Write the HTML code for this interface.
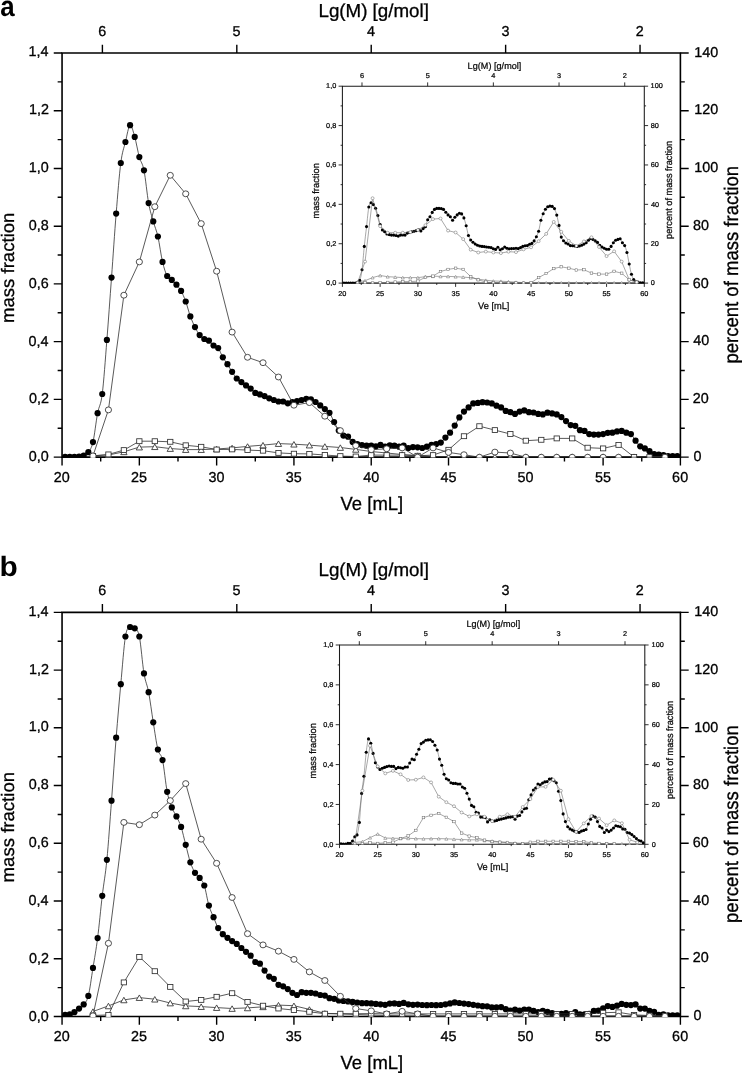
<!DOCTYPE html>
<html><head><meta charset="utf-8"><title>Figure</title>
<style>html,body{margin:0;padding:0;background:#fff;}svg{display:block;will-change:transform;filter:grayscale(1) blur(0.3px);}text{font-family:"Liberation Sans",sans-serif;}</style></head>
<body>
<svg width="742" height="1073" viewBox="0 0 742 1073" text-rendering="geometricPrecision" font-family="'Liberation Sans', sans-serif">
<rect width="742" height="1073" fill="#fff"/>
<g>
<path d="M62.05 53H680.4V457.1H62.05Z" fill="none" stroke="#000" stroke-width="1.6" stroke-linejoin="miter"/>
<path d="M62.05 457.1v8.3M100.6969 457.1v4.4M139.3438 457.1v8.3M177.9906 457.1v4.4M216.6375 457.1v8.3M255.2844 457.1v4.4M293.9312 457.1v8.3M332.5781 457.1v4.4M371.225 457.1v8.3M409.8719 457.1v4.4M448.5188 457.1v8.3M487.1656 457.1v4.4M525.8125 457.1v8.3M564.4594 457.1v4.4M603.1062 457.1v8.3M641.7531 457.1v4.4M680.4 457.1v8.3M102.4 53v-8.3M236.81 53v-8.3M371.22 53v-8.3M505.63 53v-8.3M640.04 53v-8.3M62.05 457.1h-8.3M680.4 457.1h8.3M62.05 428.2357h-4.4M680.4 428.2357h4.4M62.05 399.3714h-8.3M680.4 399.3714h8.3M62.05 370.5071h-4.4M680.4 370.5071h4.4M62.05 341.6429h-8.3M680.4 341.6429h8.3M62.05 312.7786h-4.4M680.4 312.7786h4.4M62.05 283.9143h-8.3M680.4 283.9143h8.3M62.05 255.05h-4.4M680.4 255.05h4.4M62.05 226.1857h-8.3M680.4 226.1857h8.3M62.05 197.3214h-4.4M680.4 197.3214h4.4M62.05 168.4571h-8.3M680.4 168.4571h8.3M62.05 139.5929h-4.4M680.4 139.5929h4.4M62.05 110.7286h-8.3M680.4 110.7286h8.3M62.05 81.8643h-4.4M680.4 81.8643h4.4M62.05 53h-8.3M680.4 53h8.3" fill="none" stroke="#000" stroke-width="1.4"/>
<clipPath id="clip1"><rect x="62.05" y="53" width="618.35" height="404.5"/></clipPath>
<g clip-path="url(#clip1)">
<path d="M65.1418 456.8C65.9147 456.8 68.2335 456.8 69.7794 456.8C71.3252 456.8 72.8711 456.8167 74.417 456.8C75.9629 456.7833 77.5087 456.9 79.0546 456.7C80.6005 456.5 82.1464 456.35 83.6923 455.6C85.2381 454.85 86.784 454.45 88.3299 452.2C89.8757 449.95 91.4216 448.6 92.9675 442.1C94.5134 435.6 96.0593 421.2167 97.6051 413.2C99.151 405.1833 100.6969 406.2167 102.2428 394C103.7886 381.7833 105.3345 359.3 106.8804 339.9C108.4262 320.5 109.9721 298.65 111.518 277.6C113.0639 256.55 114.6098 232.7 116.1556 213.6C117.7015 194.5 119.2474 174.9333 120.7933 163C122.3391 151.0667 123.885 148.3 125.4309 142C126.9767 135.7 128.5226 126.05 130.0685 125.2C131.6144 124.35 133.1602 131.5833 134.7061 136.9C136.252 142.2167 137.7979 151.5333 139.3438 157.1C140.8896 162.6667 142.4355 162.6333 143.9814 170.3C145.5273 177.9667 147.0731 194.5833 148.619 203.1C150.1649 211.6167 151.7107 215.8333 153.2566 221.4C154.8025 226.9667 156.3484 229.75 157.8942 236.5C159.4401 243.25 160.986 255.3167 162.5319 261.9C164.0778 268.4833 165.6236 273 167.1695 276C168.7154 279 170.2612 278.45 171.8071 279.9C173.353 281.35 174.8989 282.8667 176.4447 284.7C177.9906 286.5333 179.5365 288.1 181.0824 290.9C182.6283 293.7 184.1741 297.25 185.72 301.5C187.2659 305.75 188.8117 312.1333 190.3576 316.4C191.9035 320.6667 193.4494 323.9833 194.9952 327.1C196.5411 330.2167 198.087 333.1167 199.6329 335.1C201.1787 337.0833 202.7246 338.0667 204.2705 339C205.8164 339.9333 207.3622 339.6167 208.9081 340.7C210.454 341.7833 211.9999 344.2667 213.5457 345.5C215.0916 346.7333 216.6375 346.1333 218.1834 348.1C219.7293 350.0667 221.2751 354.6167 222.821 357.3C224.3669 359.9833 225.9127 361.7833 227.4586 364.2C229.0045 366.6167 230.5504 369.4167 232.0962 371.8C233.6421 374.1833 235.188 376.7833 236.7339 378.5C238.2797 380.2167 239.8256 380.95 241.3715 382.1C242.9174 383.25 244.4632 384.3167 246.0091 385.4C247.555 386.4833 249.1009 387.35 250.6467 388.6C252.1926 389.85 253.7385 391.9333 255.2844 392.9C256.8302 393.8667 258.3761 393.8667 259.922 394.4C261.4679 394.9333 263.0137 395.45 264.5596 396.1C266.1055 396.75 267.6514 397.65 269.1972 398.3C270.7431 398.95 272.289 399.4667 273.8349 400C275.3808 400.5333 276.9266 401.25 278.4725 401.5C280.0184 401.75 281.5643 401.2 283.1101 401.5C284.656 401.8 286.2019 403.2167 287.7477 403.3C289.2936 403.3833 290.8395 402.3667 292.3854 402C293.9312 401.6333 295.4771 401.4333 297.023 401.1C298.5689 400.7667 300.1147 400.3667 301.6606 400C303.2065 399.6333 304.7524 399 306.2982 398.9C307.8441 398.8 309.39 398.8833 310.9359 399.4C312.4817 399.9167 314.0276 401 315.5735 402C317.1194 403 318.6652 404.2167 320.2111 405.4C321.757 406.5833 323.3029 407.8667 324.8487 409.1C326.3946 410.3333 327.9405 410.65 329.4864 412.8C331.0322 414.95 332.5781 419.0333 334.124 422C335.6699 424.9667 337.2157 428.3333 338.7616 430.6C340.3075 432.8667 341.8534 434.5833 343.3992 435.6C344.9451 436.6167 346.491 435.65 348.0369 436.7C349.5828 437.75 351.1286 440.65 352.6745 441.9C354.2204 443.15 355.7662 443.6667 357.3121 444.2C358.858 444.7333 360.4039 444.85 361.9497 445.1C363.4956 445.35 365.0415 445.6 366.5874 445.7C368.1333 445.8 369.6791 445.6 371.225 445.7C372.7709 445.8 374.3167 446.4333 375.8626 446.3C377.4085 446.1667 378.9544 444.8333 380.5002 444.9C382.0461 444.9667 383.592 446.6333 385.1379 446.7C386.6838 446.7667 388.2296 445.4667 389.7755 445.3C391.3214 445.1333 392.8673 445.4667 394.4131 445.7C395.959 445.9333 397.5049 446.7 399.0507 446.7C400.5966 446.7 402.1425 445.4833 403.6884 445.7C405.2343 445.9167 406.7801 447.7667 408.326 448C409.8719 448.2333 411.4177 447.2167 412.9636 447.1C414.5095 446.9833 416.0554 447.15 417.6012 447.3C419.1471 447.45 420.693 448.1 422.2389 448C423.7847 447.9 425.3306 447.2167 426.8765 446.7C428.4224 446.1833 429.9682 445.35 431.5141 444.9C433.06 444.45 434.6059 444.3833 436.1517 444C437.6976 443.6167 439.2435 443.6667 440.7894 442.6C442.3352 441.5333 443.8811 439.25 445.427 437.6C446.9729 435.95 448.5187 434.7 450.0646 432.7C451.6105 430.7 453.1564 428.15 454.7022 425.6C456.2481 423.05 457.794 419.7333 459.3399 417.4C460.8858 415.0667 462.4316 413.2667 463.9775 411.6C465.5234 409.9333 467.0693 408.7667 468.6151 407.4C470.161 406.0333 471.7069 404.15 473.2527 403.4C474.7986 402.65 476.3445 403.1 477.8904 402.9C479.4363 402.7 480.9821 402.2667 482.528 402.2C484.0739 402.1333 485.6198 402.3 487.1656 402.5C488.7115 402.7 490.2574 402.8667 491.8032 403.4C493.3491 403.9333 494.895 405.0333 496.4409 405.7C497.9868 406.3667 499.5326 406.5333 501.0785 407.4C502.6244 408.2667 504.1703 410.1 505.7161 410.9C507.262 411.7 508.8079 411.7 510.3537 412.2C511.8996 412.7 513.4455 414 514.9914 413.9C516.5372 413.8 518.0831 412.1833 519.629 411.6C521.1749 411.0167 522.7207 410.3 524.2666 410.4C525.8125 410.5 527.3584 411.85 528.9042 412.2C530.4501 412.55 531.996 412.2167 533.5419 412.5C535.0877 412.7833 536.6336 413.5833 538.1795 413.9C539.7254 414.2167 541.2712 414.6 542.8171 414.4C544.363 414.2 545.9089 412.8667 547.4547 412.7C549.0006 412.5333 550.5465 413.1167 552.0924 413.4C553.6382 413.6833 555.1841 413.7833 556.73 414.4C558.2759 415.0167 559.8218 415.9833 561.3676 417.1C562.9135 418.2167 564.4594 419.7667 566.0053 421.1C567.5511 422.4333 569.097 424.3167 570.6429 425.1C572.1888 425.8833 573.7346 424.95 575.2805 425.8C576.8264 426.65 578.3722 429.35 579.9181 430.2C581.464 431.05 583.0099 430.25 584.5557 430.9C586.1016 431.55 587.6475 433.4833 589.1934 434.1C590.7392 434.7167 592.2851 434.5167 593.831 434.6C595.3769 434.6833 596.9227 434.6833 598.4686 434.6C600.0145 434.5167 601.5604 434.4 603.1062 434.1C604.6521 433.8 606.198 433.0333 607.7439 432.8C609.2898 432.5667 610.8356 432.9333 612.3815 432.7C613.9274 432.4667 615.4732 431.7 617.0191 431.4C618.565 431.1 620.1109 430.6833 621.6567 430.9C623.2026 431.1167 624.7485 432.1667 626.2944 432.7C627.8402 433.2333 629.3861 432.7667 630.932 434.1C632.4779 435.4333 634.0237 438.6667 635.5696 440.7C637.1155 442.7333 638.6614 445.0167 640.2072 446.3C641.7531 447.5833 643.299 447.5833 644.8449 448.4C646.3908 449.2167 647.9366 450.2333 649.4825 451.2C651.0284 452.1667 652.5743 453.6167 654.1201 454.2C655.666 454.7833 657.2119 454.55 658.7577 454.7C660.3036 454.85 661.8495 454.8833 663.3954 455.1C664.9412 455.3167 666.4871 455.85 668.033 456C669.5789 456.15 671.1247 456 672.6706 456C674.2165 456 676.5353 456 677.3083 456" fill="none" stroke="#303030" stroke-width="0.8" stroke-linejoin="round"/>
<g fill="#000">
<circle cx="65.1418" cy="456.8" r="3.1"/>
<circle cx="69.7794" cy="456.8" r="3.1"/>
<circle cx="74.417" cy="456.8" r="3.1"/>
<circle cx="79.0546" cy="456.7" r="3.1"/>
<circle cx="83.6923" cy="455.6" r="3.1"/>
<circle cx="88.3299" cy="452.2" r="3.1"/>
<circle cx="92.9675" cy="442.1" r="3.1"/>
<circle cx="97.6051" cy="413.2" r="3.1"/>
<circle cx="102.2428" cy="394" r="3.1"/>
<circle cx="106.8804" cy="339.9" r="3.1"/>
<circle cx="111.518" cy="277.6" r="3.1"/>
<circle cx="116.1556" cy="213.6" r="3.1"/>
<circle cx="120.7933" cy="163" r="3.1"/>
<circle cx="125.4309" cy="142" r="3.1"/>
<circle cx="130.0685" cy="125.2" r="3.1"/>
<circle cx="134.7061" cy="136.9" r="3.1"/>
<circle cx="139.3438" cy="157.1" r="3.1"/>
<circle cx="143.9814" cy="170.3" r="3.1"/>
<circle cx="148.619" cy="203.1" r="3.1"/>
<circle cx="153.2566" cy="221.4" r="3.1"/>
<circle cx="157.8942" cy="236.5" r="3.1"/>
<circle cx="162.5319" cy="261.9" r="3.1"/>
<circle cx="167.1695" cy="276" r="3.1"/>
<circle cx="171.8071" cy="279.9" r="3.1"/>
<circle cx="176.4447" cy="284.7" r="3.1"/>
<circle cx="181.0824" cy="290.9" r="3.1"/>
<circle cx="185.72" cy="301.5" r="3.1"/>
<circle cx="190.3576" cy="316.4" r="3.1"/>
<circle cx="194.9952" cy="327.1" r="3.1"/>
<circle cx="199.6329" cy="335.1" r="3.1"/>
<circle cx="204.2705" cy="339" r="3.1"/>
<circle cx="208.9081" cy="340.7" r="3.1"/>
<circle cx="213.5457" cy="345.5" r="3.1"/>
<circle cx="218.1834" cy="348.1" r="3.1"/>
<circle cx="222.821" cy="357.3" r="3.1"/>
<circle cx="227.4586" cy="364.2" r="3.1"/>
<circle cx="232.0962" cy="371.8" r="3.1"/>
<circle cx="236.7339" cy="378.5" r="3.1"/>
<circle cx="241.3715" cy="382.1" r="3.1"/>
<circle cx="246.0091" cy="385.4" r="3.1"/>
<circle cx="250.6467" cy="388.6" r="3.1"/>
<circle cx="255.2844" cy="392.9" r="3.1"/>
<circle cx="259.922" cy="394.4" r="3.1"/>
<circle cx="264.5596" cy="396.1" r="3.1"/>
<circle cx="269.1972" cy="398.3" r="3.1"/>
<circle cx="273.8349" cy="400" r="3.1"/>
<circle cx="278.4725" cy="401.5" r="3.1"/>
<circle cx="283.1101" cy="401.5" r="3.1"/>
<circle cx="287.7477" cy="403.3" r="3.1"/>
<circle cx="292.3854" cy="402" r="3.1"/>
<circle cx="297.023" cy="401.1" r="3.1"/>
<circle cx="301.6606" cy="400" r="3.1"/>
<circle cx="306.2982" cy="398.9" r="3.1"/>
<circle cx="310.9359" cy="399.4" r="3.1"/>
<circle cx="315.5735" cy="402" r="3.1"/>
<circle cx="320.2111" cy="405.4" r="3.1"/>
<circle cx="324.8487" cy="409.1" r="3.1"/>
<circle cx="329.4864" cy="412.8" r="3.1"/>
<circle cx="334.124" cy="422" r="3.1"/>
<circle cx="338.7616" cy="430.6" r="3.1"/>
<circle cx="343.3992" cy="435.6" r="3.1"/>
<circle cx="348.0369" cy="436.7" r="3.1"/>
<circle cx="352.6745" cy="441.9" r="3.1"/>
<circle cx="357.3121" cy="444.2" r="3.1"/>
<circle cx="361.9497" cy="445.1" r="3.1"/>
<circle cx="366.5874" cy="445.7" r="3.1"/>
<circle cx="371.225" cy="445.7" r="3.1"/>
<circle cx="375.8626" cy="446.3" r="3.1"/>
<circle cx="380.5002" cy="444.9" r="3.1"/>
<circle cx="385.1379" cy="446.7" r="3.1"/>
<circle cx="389.7755" cy="445.3" r="3.1"/>
<circle cx="394.4131" cy="445.7" r="3.1"/>
<circle cx="399.0507" cy="446.7" r="3.1"/>
<circle cx="403.6884" cy="445.7" r="3.1"/>
<circle cx="408.326" cy="448" r="3.1"/>
<circle cx="412.9636" cy="447.1" r="3.1"/>
<circle cx="417.6012" cy="447.3" r="3.1"/>
<circle cx="422.2389" cy="448" r="3.1"/>
<circle cx="426.8765" cy="446.7" r="3.1"/>
<circle cx="431.5141" cy="444.9" r="3.1"/>
<circle cx="436.1517" cy="444" r="3.1"/>
<circle cx="440.7894" cy="442.6" r="3.1"/>
<circle cx="445.427" cy="437.6" r="3.1"/>
<circle cx="450.0646" cy="432.7" r="3.1"/>
<circle cx="454.7022" cy="425.6" r="3.1"/>
<circle cx="459.3399" cy="417.4" r="3.1"/>
<circle cx="463.9775" cy="411.6" r="3.1"/>
<circle cx="468.6151" cy="407.4" r="3.1"/>
<circle cx="473.2527" cy="403.4" r="3.1"/>
<circle cx="477.8904" cy="402.9" r="3.1"/>
<circle cx="482.528" cy="402.2" r="3.1"/>
<circle cx="487.1656" cy="402.5" r="3.1"/>
<circle cx="491.8032" cy="403.4" r="3.1"/>
<circle cx="496.4409" cy="405.7" r="3.1"/>
<circle cx="501.0785" cy="407.4" r="3.1"/>
<circle cx="505.7161" cy="410.9" r="3.1"/>
<circle cx="510.3537" cy="412.2" r="3.1"/>
<circle cx="514.9914" cy="413.9" r="3.1"/>
<circle cx="519.629" cy="411.6" r="3.1"/>
<circle cx="524.2666" cy="410.4" r="3.1"/>
<circle cx="528.9042" cy="412.2" r="3.1"/>
<circle cx="533.5419" cy="412.5" r="3.1"/>
<circle cx="538.1795" cy="413.9" r="3.1"/>
<circle cx="542.8171" cy="414.4" r="3.1"/>
<circle cx="547.4547" cy="412.7" r="3.1"/>
<circle cx="552.0924" cy="413.4" r="3.1"/>
<circle cx="556.73" cy="414.4" r="3.1"/>
<circle cx="561.3676" cy="417.1" r="3.1"/>
<circle cx="566.0053" cy="421.1" r="3.1"/>
<circle cx="570.6429" cy="425.1" r="3.1"/>
<circle cx="575.2805" cy="425.8" r="3.1"/>
<circle cx="579.9181" cy="430.2" r="3.1"/>
<circle cx="584.5557" cy="430.9" r="3.1"/>
<circle cx="589.1934" cy="434.1" r="3.1"/>
<circle cx="593.831" cy="434.6" r="3.1"/>
<circle cx="598.4686" cy="434.6" r="3.1"/>
<circle cx="603.1062" cy="434.1" r="3.1"/>
<circle cx="607.7439" cy="432.8" r="3.1"/>
<circle cx="612.3815" cy="432.7" r="3.1"/>
<circle cx="617.0191" cy="431.4" r="3.1"/>
<circle cx="621.6567" cy="430.9" r="3.1"/>
<circle cx="626.2944" cy="432.7" r="3.1"/>
<circle cx="630.932" cy="434.1" r="3.1"/>
<circle cx="635.5696" cy="440.7" r="3.1"/>
<circle cx="640.2072" cy="446.3" r="3.1"/>
<circle cx="644.8449" cy="448.4" r="3.1"/>
<circle cx="649.4825" cy="451.2" r="3.1"/>
<circle cx="654.1201" cy="454.2" r="3.1"/>
<circle cx="658.7577" cy="454.7" r="3.1"/>
<circle cx="663.3954" cy="455.1" r="3.1"/>
<circle cx="668.033" cy="456" r="3.1"/>
<circle cx="672.6706" cy="456" r="3.1"/>
<circle cx="677.3083" cy="456" r="3.1"/>
</g>
<path d="M92.9675 455.6L108.4262 455L123.885 451.8L139.3438 447.1L154.8025 446.7L170.2613 448.55L185.72 449.6L201.1787 449.6L216.6375 449L232.0962 447.9L247.555 446.4L263.0138 445.1L278.4725 443.6L293.9312 444.2L309.39 445.1L324.8487 446.4L340.3075 447.5L355.7663 449.4L371.225 451.5L386.6838 453L402.1425 454.5L417.6012 455.5L433.06 456.6L448.5188 456.6L463.9775 456.6L479.4363 456.6L494.895 456.6L510.3537 456.6L525.8125 456.6L541.2713 456.6L556.73 456.6L572.1888 456.6L587.6475 456.6L603.1062 456.6L618.565 456.6L634.0237 456.6L649.4825 456.6L664.9412 456.6" fill="none" stroke="#303030" stroke-width="0.8" stroke-linejoin="round"/>
<g fill="#fff" stroke="#303030" stroke-width="0.85" stroke-linejoin="miter">
<path d="M92.9675 452.95L96.1175 458.45L89.8175 458.45Z"/>
<path d="M108.4262 452.35L111.5763 457.85L105.2762 457.85Z"/>
<path d="M123.885 449.15L127.035 454.65L120.735 454.65Z"/>
<path d="M139.3438 444.45L142.4938 449.95L136.1937 449.95Z"/>
<path d="M154.8025 444.05L157.9525 449.55L151.6525 449.55Z"/>
<path d="M170.2613 445.9L173.4113 451.4L167.1113 451.4Z"/>
<path d="M185.72 446.95L188.87 452.45L182.57 452.45Z"/>
<path d="M201.1787 446.95L204.3287 452.45L198.0287 452.45Z"/>
<path d="M216.6375 446.35L219.7875 451.85L213.4875 451.85Z"/>
<path d="M232.0962 445.25L235.2463 450.75L228.9462 450.75Z"/>
<path d="M247.555 443.75L250.705 449.25L244.405 449.25Z"/>
<path d="M263.0138 442.45L266.1637 447.95L259.8638 447.95Z"/>
<path d="M278.4725 440.95L281.6225 446.45L275.3225 446.45Z"/>
<path d="M293.9312 441.55L297.0812 447.05L290.7812 447.05Z"/>
<path d="M309.39 442.45L312.54 447.95L306.24 447.95Z"/>
<path d="M324.8487 443.75L327.9987 449.25L321.6988 449.25Z"/>
<path d="M340.3075 444.85L343.4575 450.35L337.1575 450.35Z"/>
<path d="M355.7663 446.75L358.9162 452.25L352.6163 452.25Z"/>
<path d="M371.225 448.85L374.375 454.35L368.075 454.35Z"/>
<path d="M386.6838 450.35L389.8338 455.85L383.5338 455.85Z"/>
<path d="M402.1425 451.85L405.2925 457.35L398.9925 457.35Z"/>
<path d="M417.6012 452.85L420.7512 458.35L414.4513 458.35Z"/>
<path d="M433.06 453.95L436.21 459.45L429.91 459.45Z"/>
<path d="M448.5188 453.95L451.6687 459.45L445.3688 459.45Z"/>
<path d="M463.9775 453.95L467.1275 459.45L460.8275 459.45Z"/>
<path d="M479.4363 453.95L482.5863 459.45L476.2863 459.45Z"/>
<path d="M494.895 453.95L498.045 459.45L491.745 459.45Z"/>
<path d="M510.3537 453.95L513.5037 459.45L507.2038 459.45Z"/>
<path d="M525.8125 453.95L528.9625 459.45L522.6625 459.45Z"/>
<path d="M541.2713 453.95L544.4212 459.45L538.1213 459.45Z"/>
<path d="M556.73 453.95L559.88 459.45L553.58 459.45Z"/>
<path d="M572.1888 453.95L575.3388 459.45L569.0388 459.45Z"/>
<path d="M587.6475 453.95L590.7975 459.45L584.4975 459.45Z"/>
<path d="M603.1062 453.95L606.2562 459.45L599.9562 459.45Z"/>
<path d="M618.565 453.95L621.715 459.45L615.415 459.45Z"/>
<path d="M634.0237 453.95L637.1737 459.45L630.8737 459.45Z"/>
<path d="M649.4825 453.95L652.6325 459.45L646.3325 459.45Z"/>
<path d="M664.9412 453.95L668.0912 459.45L661.7912 459.45Z"/>
</g>
<path d="M92.9675 456L108.4262 454.4L123.885 450.1L139.3438 441.2L154.8025 441.2L170.2613 441.8L185.72 445.3L201.1787 446.8L216.6375 449.5L232.0962 449.4L247.555 450.1L263.0138 450.7L278.4725 452.9L293.9312 453.7L309.39 453.9L324.8487 455L340.3075 456.1L355.7663 456.5L371.225 455.1L386.6838 455.1L402.1425 455.1L417.6012 455.8L433.06 455.1L448.5188 449.8L463.9775 436.2L479.4363 426.2L494.895 430.1L510.3537 434L525.8125 440.7L541.2713 439.8L556.73 438.4L572.1888 438.4L587.6475 447.7L603.1062 448.4L618.565 444.9L634.0237 457L649.4825 457.1L664.9412 457.1" fill="none" stroke="#303030" stroke-width="0.8" stroke-linejoin="round"/>
<g fill="#fff" stroke="#303030" stroke-width="0.85">
<rect x="90.3175" y="453.55" width="5.3" height="4.9"/>
<rect x="105.7762" y="451.95" width="5.3" height="4.9"/>
<rect x="121.235" y="447.65" width="5.3" height="4.9"/>
<rect x="136.6937" y="438.75" width="5.3" height="4.9"/>
<rect x="152.1525" y="438.75" width="5.3" height="4.9"/>
<rect x="167.6113" y="439.35" width="5.3" height="4.9"/>
<rect x="183.07" y="442.85" width="5.3" height="4.9"/>
<rect x="198.5287" y="444.35" width="5.3" height="4.9"/>
<rect x="213.9875" y="447.05" width="5.3" height="4.9"/>
<rect x="229.4462" y="446.95" width="5.3" height="4.9"/>
<rect x="244.905" y="447.65" width="5.3" height="4.9"/>
<rect x="260.3638" y="448.25" width="5.3" height="4.9"/>
<rect x="275.8225" y="450.45" width="5.3" height="4.9"/>
<rect x="291.2812" y="451.25" width="5.3" height="4.9"/>
<rect x="306.74" y="451.45" width="5.3" height="4.9"/>
<rect x="322.1988" y="452.55" width="5.3" height="4.9"/>
<rect x="337.6575" y="453.65" width="5.3" height="4.9"/>
<rect x="353.1163" y="454.05" width="5.3" height="4.9"/>
<rect x="368.575" y="452.65" width="5.3" height="4.9"/>
<rect x="384.0338" y="452.65" width="5.3" height="4.9"/>
<rect x="399.4925" y="452.65" width="5.3" height="4.9"/>
<rect x="414.9513" y="453.35" width="5.3" height="4.9"/>
<rect x="430.41" y="452.65" width="5.3" height="4.9"/>
<rect x="445.8688" y="447.35" width="5.3" height="4.9"/>
<rect x="461.3275" y="433.75" width="5.3" height="4.9"/>
<rect x="476.7863" y="423.75" width="5.3" height="4.9"/>
<rect x="492.245" y="427.65" width="5.3" height="4.9"/>
<rect x="507.7038" y="431.55" width="5.3" height="4.9"/>
<rect x="523.1625" y="438.25" width="5.3" height="4.9"/>
<rect x="538.6213" y="437.35" width="5.3" height="4.9"/>
<rect x="554.08" y="435.95" width="5.3" height="4.9"/>
<rect x="569.5388" y="435.95" width="5.3" height="4.9"/>
<rect x="584.9975" y="445.25" width="5.3" height="4.9"/>
<rect x="600.4562" y="445.95" width="5.3" height="4.9"/>
<rect x="615.915" y="442.45" width="5.3" height="4.9"/>
<rect x="631.3737" y="454.55" width="5.3" height="4.9"/>
<rect x="646.8325" y="454.65" width="5.3" height="4.9"/>
<rect x="662.2912" y="454.65" width="5.3" height="4.9"/>
</g>
<path d="M92.9675 455.9L108.4262 409.9L123.885 295.2L139.3438 261.9L154.8025 206.7L170.2613 175.3L185.72 193.8L201.1787 223.6L216.6375 271.2L232.0962 332.1L247.555 357.3L263.0138 362.7L278.4725 377L293.9312 405.2L309.39 402.6L324.8487 416.2L340.3075 430.6L355.7663 445.7L371.225 449.7L386.6838 448.8L402.1425 447.9L417.6012 457.2L433.06 447.9L448.5188 452.4L463.9775 454.7L479.4363 457.2L494.895 452.1L510.3537 453L525.8125 457.2L541.2713 457.2L556.73 457.2L572.1888 457.2L587.6475 457.2L603.1062 457.2L618.565 457.2L664.9412 457.2" fill="none" stroke="#303030" stroke-width="0.8" stroke-linejoin="round"/>
<g fill="#fff" stroke="#303030" stroke-width="0.85">
<ellipse cx="92.9675" cy="455.9" rx="3.1" ry="2.95"/>
<ellipse cx="108.4262" cy="409.9" rx="3.1" ry="2.95"/>
<ellipse cx="123.885" cy="295.2" rx="3.1" ry="2.95"/>
<ellipse cx="139.3438" cy="261.9" rx="3.1" ry="2.95"/>
<ellipse cx="154.8025" cy="206.7" rx="3.1" ry="2.95"/>
<ellipse cx="170.2613" cy="175.3" rx="3.1" ry="2.95"/>
<ellipse cx="185.72" cy="193.8" rx="3.1" ry="2.95"/>
<ellipse cx="201.1787" cy="223.6" rx="3.1" ry="2.95"/>
<ellipse cx="216.6375" cy="271.2" rx="3.1" ry="2.95"/>
<ellipse cx="232.0962" cy="332.1" rx="3.1" ry="2.95"/>
<ellipse cx="247.555" cy="357.3" rx="3.1" ry="2.95"/>
<ellipse cx="263.0138" cy="362.7" rx="3.1" ry="2.95"/>
<ellipse cx="278.4725" cy="377" rx="3.1" ry="2.95"/>
<ellipse cx="293.9312" cy="405.2" rx="3.1" ry="2.95"/>
<ellipse cx="309.39" cy="402.6" rx="3.1" ry="2.95"/>
<ellipse cx="324.8487" cy="416.2" rx="3.1" ry="2.95"/>
<ellipse cx="340.3075" cy="430.6" rx="3.1" ry="2.95"/>
<ellipse cx="355.7663" cy="445.7" rx="3.1" ry="2.95"/>
<ellipse cx="371.225" cy="449.7" rx="3.1" ry="2.95"/>
<ellipse cx="386.6838" cy="448.8" rx="3.1" ry="2.95"/>
<ellipse cx="402.1425" cy="447.9" rx="3.1" ry="2.95"/>
<ellipse cx="417.6012" cy="457.2" rx="3.1" ry="2.95"/>
<ellipse cx="433.06" cy="447.9" rx="3.1" ry="2.95"/>
<ellipse cx="448.5188" cy="452.4" rx="3.1" ry="2.95"/>
<ellipse cx="463.9775" cy="454.7" rx="3.1" ry="2.95"/>
<ellipse cx="479.4363" cy="457.2" rx="3.1" ry="2.95"/>
<ellipse cx="494.895" cy="452.1" rx="3.1" ry="2.95"/>
<ellipse cx="510.3537" cy="453" rx="3.1" ry="2.95"/>
<ellipse cx="525.8125" cy="457.2" rx="3.1" ry="2.95"/>
<ellipse cx="541.2713" cy="457.2" rx="3.1" ry="2.95"/>
<ellipse cx="556.73" cy="457.2" rx="3.1" ry="2.95"/>
<ellipse cx="572.1888" cy="457.2" rx="3.1" ry="2.95"/>
<ellipse cx="587.6475" cy="457.2" rx="3.1" ry="2.95"/>
<ellipse cx="603.1062" cy="457.2" rx="3.1" ry="2.95"/>
<ellipse cx="618.565" cy="457.2" rx="3.1" ry="2.95"/>
<ellipse cx="664.9412" cy="457.2" rx="3.1" ry="2.95"/>
</g>
</g>
<text transform="matrix(0.144 0 0 0.144 28.724 461.2)" font-size="100" stroke="#000" stroke-width="2.0833" fill="#000">0,0</text>
<text transform="matrix(0.144 0 0 0.144 693.624 460.8)" font-size="100" stroke="#000" stroke-width="2.0833" fill="#000">0</text>
<text transform="matrix(0.144 0 0 0.144 28.904 403.3571)" font-size="100" stroke="#000" stroke-width="2.0833" fill="#000">0,2</text>
<text transform="matrix(0.144 0 0 0.144 692.78 403.0714)" font-size="100" stroke="#000" stroke-width="2.0833" fill="#000">20</text>
<text transform="matrix(0.144 0 0 0.144 28.58 345.5143)" font-size="100" stroke="#000" stroke-width="2.0833" fill="#000">0,4</text>
<text transform="matrix(0.144 0 0 0.144 693.176 345.3429)" font-size="100" stroke="#000" stroke-width="2.0833" fill="#000">40</text>
<text transform="matrix(0.144 0 0 0.144 28.796 287.6714)" font-size="100" stroke="#000" stroke-width="2.0833" fill="#000">0,6</text>
<text transform="matrix(0.144 0 0 0.144 692.78 287.6143)" font-size="100" stroke="#000" stroke-width="2.0833" fill="#000">60</text>
<text transform="matrix(0.144 0 0 0.144 28.796 229.8286)" font-size="100" stroke="#000" stroke-width="2.0833" fill="#000">0,8</text>
<text transform="matrix(0.144 0 0 0.144 692.888 229.8857)" font-size="100" stroke="#000" stroke-width="2.0833" fill="#000">80</text>
<text transform="matrix(0.144 0 0 0.144 28.724 171.9857)" font-size="100" stroke="#000" stroke-width="2.0833" fill="#000">1,0</text>
<text transform="matrix(0.144 0 0 0.144 694.32 172.1571)" font-size="100" stroke="#000" stroke-width="2.0833" fill="#000">100</text>
<text transform="matrix(0.144 0 0 0.144 28.904 114.1429)" font-size="100" stroke="#000" stroke-width="2.0833" fill="#000">1,2</text>
<text transform="matrix(0.144 0 0 0.144 694.32 114.4286)" font-size="100" stroke="#000" stroke-width="2.0833" fill="#000">120</text>
<text transform="matrix(0.144 0 0 0.144 28.58 56.3)" font-size="100" stroke="#000" stroke-width="2.0833" fill="#000">1,4</text>
<text transform="matrix(0.144 0 0 0.144 694.32 56.7)" font-size="100" stroke="#000" stroke-width="2.0833" fill="#000">140</text>
<text transform="matrix(0.144 0 0 0.144 53.768 481.5)" font-size="100" stroke="#000" stroke-width="2.0833" fill="#000">20</text>
<text transform="matrix(0.144 0 0 0.144 131.0798 481.5)" font-size="100" stroke="#000" stroke-width="2.0833" fill="#000">25</text>
<text transform="matrix(0.144 0 0 0.144 208.4455 481.5)" font-size="100" stroke="#000" stroke-width="2.0833" fill="#000">30</text>
<text transform="matrix(0.144 0 0 0.144 285.7572 481.5)" font-size="100" stroke="#000" stroke-width="2.0833" fill="#000">35</text>
<text transform="matrix(0.144 0 0 0.144 363.141 481.5)" font-size="100" stroke="#000" stroke-width="2.0833" fill="#000">40</text>
<text transform="matrix(0.144 0 0 0.144 440.4528 481.5)" font-size="100" stroke="#000" stroke-width="2.0833" fill="#000">45</text>
<text transform="matrix(0.144 0 0 0.144 517.6025 481.5)" font-size="100" stroke="#000" stroke-width="2.0833" fill="#000">50</text>
<text transform="matrix(0.144 0 0 0.144 594.9142 481.5)" font-size="100" stroke="#000" stroke-width="2.0833" fill="#000">55</text>
<text transform="matrix(0.144 0 0 0.144 672.118 481.5)" font-size="100" stroke="#000" stroke-width="2.0833" fill="#000">60</text>
<text transform="matrix(0.144 0 0 0.144 98.15 36)" font-size="100" stroke="#000" stroke-width="2.0833" fill="#000">6</text>
<text transform="matrix(0.144 0 0 0.144 232.614 36)" font-size="100" stroke="#000" stroke-width="2.0833" fill="#000">5</text>
<text transform="matrix(0.144 0 0 0.144 367.06 36)" font-size="100" stroke="#000" stroke-width="2.0833" fill="#000">4</text>
<text transform="matrix(0.144 0 0 0.144 501.47 36)" font-size="100" stroke="#000" stroke-width="2.0833" fill="#000">3</text>
<text transform="matrix(0.144 0 0 0.144 635.844 36)" font-size="100" stroke="#000" stroke-width="2.0833" fill="#000">2</text>
<text transform="matrix(0.1875 0 0 0.1876 318.4528 16.6)" font-size="100" stroke="#000" stroke-width="1.5988" fill="#000">Lg(M) [g/mol]</text>
<text transform="matrix(0.1849 0 0 0.1891 340.5075 509.5)" font-size="100" stroke="#000" stroke-width="1.5865" fill="#000">Ve [mL]</text>
<text transform="matrix(0 -0.1858 0.1807 0 14.4 323.0542)" font-size="100" stroke="#000" stroke-width="1.6146" fill="#000">mass fraction</text>
<text transform="matrix(0 -0.1853 0.1959 0 737.9 363.6044)" font-size="100" stroke="#000" stroke-width="1.619" fill="#000">percent of mass fraction</text>
</g>
<g>
<path d="M62.05 612.35H680.4V1016.5H62.05Z" fill="none" stroke="#000" stroke-width="1.6" stroke-linejoin="miter"/>
<path d="M62.05 1016.5v8.3M100.6969 1016.5v4.4M139.3438 1016.5v8.3M177.9906 1016.5v4.4M216.6375 1016.5v8.3M255.2844 1016.5v4.4M293.9312 1016.5v8.3M332.5781 1016.5v4.4M371.225 1016.5v8.3M409.8719 1016.5v4.4M448.5188 1016.5v8.3M487.1656 1016.5v4.4M525.8125 1016.5v8.3M564.4594 1016.5v4.4M603.1062 1016.5v8.3M641.7531 1016.5v4.4M680.4 1016.5v8.3M102.4 612.35v-8.3M236.81 612.35v-8.3M371.22 612.35v-8.3M505.63 612.35v-8.3M640.04 612.35v-8.3M62.05 1016.5h-8.3M680.4 1016.5h8.3M62.05 987.6321h-4.4M680.4 987.6321h4.4M62.05 958.7643h-8.3M680.4 958.7643h8.3M62.05 929.8964h-4.4M680.4 929.8964h4.4M62.05 901.0286h-8.3M680.4 901.0286h8.3M62.05 872.1607h-4.4M680.4 872.1607h4.4M62.05 843.2929h-8.3M680.4 843.2929h8.3M62.05 814.425h-4.4M680.4 814.425h4.4M62.05 785.5571h-8.3M680.4 785.5571h8.3M62.05 756.6893h-4.4M680.4 756.6893h4.4M62.05 727.8214h-8.3M680.4 727.8214h8.3M62.05 698.9536h-4.4M680.4 698.9536h4.4M62.05 670.0857h-8.3M680.4 670.0857h8.3M62.05 641.2179h-4.4M680.4 641.2179h4.4M62.05 612.35h-8.3M680.4 612.35h8.3" fill="none" stroke="#000" stroke-width="1.4"/>
<clipPath id="clip2"><rect x="62.05" y="612.35" width="618.35" height="404.55"/></clipPath>
<g clip-path="url(#clip2)">
<path d="M65.1418 1014.9C65.9147 1014.8167 68.2335 1014.85 69.7794 1014.4C71.3252 1013.95 72.8711 1013.1667 74.417 1012.2C75.9629 1011.2333 77.5087 1009.9 79.0546 1008.6C80.6005 1007.3 82.1464 1006.5167 83.6923 1004.4C85.2381 1002.2833 86.784 1001.9833 88.3299 995.9C89.8757 989.8167 91.4216 977.5333 92.9675 967.9C94.5134 958.2667 96.0593 950.1167 97.6051 938.1C99.151 926.0833 100.6969 908.85 102.2428 895.8C103.7886 882.75 105.3345 875.65 106.8804 859.8C108.4262 843.95 109.9721 821.05 111.518 800.7C113.0639 780.35 114.6098 757.1167 116.1556 737.7C117.7015 718.2833 119.2474 701.0667 120.7933 684.2C122.3391 667.3333 123.885 646.0333 125.4309 636.5C126.9767 626.9667 128.5226 628.3667 130.0685 627C131.6144 625.6333 133.1602 626.7167 134.7061 628.3C136.252 629.8833 137.7979 628.9833 139.3438 636.5C140.8896 644.0167 142.4355 664.1167 143.9814 673.4C145.5273 682.6833 147.0731 684.05 148.619 692.2C150.1649 700.35 151.7107 712.75 153.2566 722.3C154.8025 731.85 156.3484 743.2 157.8942 749.5C159.4401 755.8 160.986 753.05 162.5319 760.1C164.0778 767.15 165.6236 783.9167 167.1695 791.8C168.7154 799.6833 170.2612 803.3 171.8071 807.4C173.353 811.5 174.8989 813.15 176.4447 816.4C177.9906 819.65 179.5365 822.1667 181.0824 826.9C182.6283 831.6333 184.1741 838.9 185.72 844.8C187.2659 850.7 188.8117 857.6333 190.3576 862.3C191.9035 866.9667 193.4494 870.2 194.9952 872.8C196.5411 875.4 198.087 875.7833 199.6329 877.9C201.1787 880.0167 202.7246 880.8833 204.2705 885.5C205.8164 890.1167 207.3622 900.3167 208.9081 905.6C210.454 910.8833 211.9999 913.45 213.5457 917.2C215.0916 920.95 216.6375 925.2667 218.1834 928.1C219.7293 930.9333 221.2751 932.5833 222.821 934.2C224.3669 935.8167 225.9127 936.65 227.4586 937.8C229.0045 938.95 230.5504 940.0833 232.0962 941.1C233.6421 942.1167 235.188 942.75 236.7339 943.9C238.2797 945.05 239.8256 946.6833 241.3715 948C242.9174 949.3167 244.4632 950.5167 246.0091 951.8C247.555 953.0833 249.1009 954 250.6467 955.7C252.1926 957.4 253.7385 960.6667 255.2844 962C256.8302 963.3333 258.3761 962.2667 259.922 963.7C261.4679 965.1333 263.0137 968.45 264.5596 970.6C266.1055 972.75 267.6514 975.2333 269.1972 976.6C270.7431 977.9667 272.289 977.4333 273.8349 978.8C275.3808 980.1667 276.9266 983.55 278.4725 984.8C280.0184 986.05 281.5643 985.5833 283.1101 986.3C284.656 987.0167 286.2019 988.0167 287.7477 989.1C289.2936 990.1833 290.8395 991.8167 292.3854 992.8C293.9312 993.7833 295.4771 995.1 297.023 995C298.5689 994.9 300.1147 992.5667 301.6606 992.2C303.2065 991.8333 304.7524 992.7 306.2982 992.8C307.8441 992.9 309.39 992.6833 310.9359 992.8C312.4817 992.9167 314.0276 993.1333 315.5735 993.5C317.1194 993.8667 318.6652 994.65 320.2111 995C321.757 995.35 323.3029 995.0667 324.8487 995.6C326.3946 996.1333 327.9405 997.6667 329.4864 998.2C331.0322 998.7333 332.5781 998.4333 334.124 998.8C335.6699 999.1667 337.2157 1000.0333 338.7616 1000.4C340.3075 1000.7667 341.8534 1000.8333 343.3992 1001C344.9451 1001.1667 346.491 1001.25 348.0369 1001.4C349.5828 1001.55 351.1286 1001.7167 352.6745 1001.9C354.2204 1002.0833 355.7662 1002.2833 357.3121 1002.5C358.858 1002.7167 360.4039 1003.0833 361.9497 1003.2C363.4956 1003.3167 365.0415 1003.1667 366.5874 1003.2C368.1333 1003.2333 369.6791 1003.2833 371.225 1003.4C372.7709 1003.5167 374.3167 1003.75 375.8626 1003.9C377.4085 1004.05 378.9544 1004.15 380.5002 1004.3C382.0461 1004.45 383.592 1004.9167 385.1379 1004.8C386.6838 1004.6833 388.2296 1003.8333 389.7755 1003.6C391.3214 1003.3667 392.8673 1003.35 394.4131 1003.4C395.959 1003.45 397.5049 1003.9833 399.0507 1003.9C400.5966 1003.8167 402.1425 1002.8333 403.6884 1002.9C405.2343 1002.9667 406.7801 1003.9833 408.326 1004.3C409.8719 1004.6167 411.4177 1004.75 412.9636 1004.8C414.5095 1004.85 416.0554 1004.5667 417.6012 1004.6C419.1471 1004.6333 420.693 1004.9 422.2389 1005C423.7847 1005.1 425.3306 1005.2 426.8765 1005.2C428.4224 1005.2 429.9682 1005 431.5141 1005C433.06 1005 434.6059 1005.2 436.1517 1005.2C437.6976 1005.2 439.2435 1005.15 440.7894 1005C442.3352 1004.85 443.8811 1004.5667 445.427 1004.3C446.9729 1004.0333 448.5187 1003.7167 450.0646 1003.4C451.6105 1003.0833 453.1564 1002.4667 454.7022 1002.4C456.2481 1002.3333 457.794 1002.8 459.3399 1003C460.8858 1003.2 462.4316 1003.4167 463.9775 1003.6C465.5234 1003.7833 467.0693 1003.9 468.6151 1004.1C470.161 1004.3 471.7069 1004.5667 473.2527 1004.8C474.7986 1005.0333 476.3445 1005.2667 477.8904 1005.5C479.4363 1005.7333 480.9821 1006.0667 482.528 1006.2C484.0739 1006.3333 485.6198 1006.1 487.1656 1006.3C488.7115 1006.5 490.2574 1007.2167 491.8032 1007.4C493.3491 1007.5833 494.895 1007.45 496.4409 1007.4C497.9868 1007.35 499.5326 1006.8 501.0785 1007.1C502.6244 1007.4 504.1703 1008.6167 505.7161 1009.2C507.262 1009.7833 508.8079 1010.5167 510.3537 1010.6C511.8996 1010.6833 513.4455 1009.7 514.9914 1009.7C516.5372 1009.7 518.0831 1010.6333 519.629 1010.6C521.1749 1010.5667 522.7207 1009.65 524.2666 1009.5C525.8125 1009.35 527.3584 1009.4667 528.9042 1009.7C530.4501 1009.9333 531.996 1010.5 533.5419 1010.9C535.0877 1011.3 536.6336 1012.1 538.1795 1012.1C539.7254 1012.1 541.2712 1010.95 542.8171 1010.9C544.363 1010.85 545.9089 1011.4167 547.4547 1011.8C549.0006 1012.1833 550.5465 1012.7667 552.0924 1013.2C553.6382 1013.6333 555.1841 1014.2833 556.73 1014.4C558.2759 1014.5167 559.8218 1014.1333 561.3676 1013.9C562.9135 1013.6667 564.4594 1012.9167 566.0053 1013C567.5511 1013.0833 569.097 1014.55 570.6429 1014.4C572.1888 1014.25 573.7346 1012.1 575.2805 1012.1C576.8264 1012.1 578.3722 1014.0167 579.9181 1014.4C581.464 1014.7833 583.0099 1014.4833 584.5557 1014.4C586.1016 1014.3167 587.6475 1014.4833 589.1934 1013.9C590.7392 1013.3167 592.2851 1011.45 593.831 1010.9C595.3769 1010.35 596.9227 1011.0167 598.4686 1010.6C600.0145 1010.1833 601.5604 1009.15 603.1062 1008.4C604.6521 1007.65 606.198 1006.35 607.7439 1006.1C609.2898 1005.85 610.8356 1006.9667 612.3815 1006.9C613.9274 1006.8333 615.4732 1006.2 617.0191 1005.7C618.565 1005.2 620.1109 1004.05 621.6567 1003.9C623.2026 1003.75 624.7485 1004.6 626.2944 1004.8C627.8402 1005 629.3861 1005.1667 630.932 1005.1C632.4779 1005.0333 634.0237 1003.8167 635.5696 1004.4C637.1155 1004.9833 638.6614 1007.9 640.2072 1008.6C641.7531 1009.3 643.299 1008.2167 644.8449 1008.6C646.3908 1008.9833 647.9366 1010.3667 649.4825 1010.9C651.0284 1011.4333 652.5743 1011.1333 654.1201 1011.8C655.666 1012.4667 657.2119 1014.4667 658.7577 1014.9C660.3036 1015.3333 661.8495 1014.3333 663.3954 1014.4C664.9412 1014.4667 666.4871 1015.15 668.033 1015.3C669.5789 1015.45 671.1247 1015.3 672.6706 1015.3C674.2165 1015.3 676.5353 1015.3 677.3083 1015.3" fill="none" stroke="#303030" stroke-width="0.8" stroke-linejoin="round"/>
<g fill="#000">
<circle cx="65.1418" cy="1014.9" r="3.1"/>
<circle cx="69.7794" cy="1014.4" r="3.1"/>
<circle cx="74.417" cy="1012.2" r="3.1"/>
<circle cx="79.0546" cy="1008.6" r="3.1"/>
<circle cx="83.6923" cy="1004.4" r="3.1"/>
<circle cx="88.3299" cy="995.9" r="3.1"/>
<circle cx="92.9675" cy="967.9" r="3.1"/>
<circle cx="97.6051" cy="938.1" r="3.1"/>
<circle cx="102.2428" cy="895.8" r="3.1"/>
<circle cx="106.8804" cy="859.8" r="3.1"/>
<circle cx="111.518" cy="800.7" r="3.1"/>
<circle cx="116.1556" cy="737.7" r="3.1"/>
<circle cx="120.7933" cy="684.2" r="3.1"/>
<circle cx="125.4309" cy="636.5" r="3.1"/>
<circle cx="130.0685" cy="627" r="3.1"/>
<circle cx="134.7061" cy="628.3" r="3.1"/>
<circle cx="139.3438" cy="636.5" r="3.1"/>
<circle cx="143.9814" cy="673.4" r="3.1"/>
<circle cx="148.619" cy="692.2" r="3.1"/>
<circle cx="153.2566" cy="722.3" r="3.1"/>
<circle cx="157.8942" cy="749.5" r="3.1"/>
<circle cx="162.5319" cy="760.1" r="3.1"/>
<circle cx="167.1695" cy="791.8" r="3.1"/>
<circle cx="171.8071" cy="807.4" r="3.1"/>
<circle cx="176.4447" cy="816.4" r="3.1"/>
<circle cx="181.0824" cy="826.9" r="3.1"/>
<circle cx="185.72" cy="844.8" r="3.1"/>
<circle cx="190.3576" cy="862.3" r="3.1"/>
<circle cx="194.9952" cy="872.8" r="3.1"/>
<circle cx="199.6329" cy="877.9" r="3.1"/>
<circle cx="204.2705" cy="885.5" r="3.1"/>
<circle cx="208.9081" cy="905.6" r="3.1"/>
<circle cx="213.5457" cy="917.2" r="3.1"/>
<circle cx="218.1834" cy="928.1" r="3.1"/>
<circle cx="222.821" cy="934.2" r="3.1"/>
<circle cx="227.4586" cy="937.8" r="3.1"/>
<circle cx="232.0962" cy="941.1" r="3.1"/>
<circle cx="236.7339" cy="943.9" r="3.1"/>
<circle cx="241.3715" cy="948" r="3.1"/>
<circle cx="246.0091" cy="951.8" r="3.1"/>
<circle cx="250.6467" cy="955.7" r="3.1"/>
<circle cx="255.2844" cy="962" r="3.1"/>
<circle cx="259.922" cy="963.7" r="3.1"/>
<circle cx="264.5596" cy="970.6" r="3.1"/>
<circle cx="269.1972" cy="976.6" r="3.1"/>
<circle cx="273.8349" cy="978.8" r="3.1"/>
<circle cx="278.4725" cy="984.8" r="3.1"/>
<circle cx="283.1101" cy="986.3" r="3.1"/>
<circle cx="287.7477" cy="989.1" r="3.1"/>
<circle cx="292.3854" cy="992.8" r="3.1"/>
<circle cx="297.023" cy="995" r="3.1"/>
<circle cx="301.6606" cy="992.2" r="3.1"/>
<circle cx="306.2982" cy="992.8" r="3.1"/>
<circle cx="310.9359" cy="992.8" r="3.1"/>
<circle cx="315.5735" cy="993.5" r="3.1"/>
<circle cx="320.2111" cy="995" r="3.1"/>
<circle cx="324.8487" cy="995.6" r="3.1"/>
<circle cx="329.4864" cy="998.2" r="3.1"/>
<circle cx="334.124" cy="998.8" r="3.1"/>
<circle cx="338.7616" cy="1000.4" r="3.1"/>
<circle cx="343.3992" cy="1001" r="3.1"/>
<circle cx="348.0369" cy="1001.4" r="3.1"/>
<circle cx="352.6745" cy="1001.9" r="3.1"/>
<circle cx="357.3121" cy="1002.5" r="3.1"/>
<circle cx="361.9497" cy="1003.2" r="3.1"/>
<circle cx="366.5874" cy="1003.2" r="3.1"/>
<circle cx="371.225" cy="1003.4" r="3.1"/>
<circle cx="375.8626" cy="1003.9" r="3.1"/>
<circle cx="380.5002" cy="1004.3" r="3.1"/>
<circle cx="385.1379" cy="1004.8" r="3.1"/>
<circle cx="389.7755" cy="1003.6" r="3.1"/>
<circle cx="394.4131" cy="1003.4" r="3.1"/>
<circle cx="399.0507" cy="1003.9" r="3.1"/>
<circle cx="403.6884" cy="1002.9" r="3.1"/>
<circle cx="408.326" cy="1004.3" r="3.1"/>
<circle cx="412.9636" cy="1004.8" r="3.1"/>
<circle cx="417.6012" cy="1004.6" r="3.1"/>
<circle cx="422.2389" cy="1005" r="3.1"/>
<circle cx="426.8765" cy="1005.2" r="3.1"/>
<circle cx="431.5141" cy="1005" r="3.1"/>
<circle cx="436.1517" cy="1005.2" r="3.1"/>
<circle cx="440.7894" cy="1005" r="3.1"/>
<circle cx="445.427" cy="1004.3" r="3.1"/>
<circle cx="450.0646" cy="1003.4" r="3.1"/>
<circle cx="454.7022" cy="1002.4" r="3.1"/>
<circle cx="459.3399" cy="1003" r="3.1"/>
<circle cx="463.9775" cy="1003.6" r="3.1"/>
<circle cx="468.6151" cy="1004.1" r="3.1"/>
<circle cx="473.2527" cy="1004.8" r="3.1"/>
<circle cx="477.8904" cy="1005.5" r="3.1"/>
<circle cx="482.528" cy="1006.2" r="3.1"/>
<circle cx="487.1656" cy="1006.3" r="3.1"/>
<circle cx="491.8032" cy="1007.4" r="3.1"/>
<circle cx="496.4409" cy="1007.4" r="3.1"/>
<circle cx="501.0785" cy="1007.1" r="3.1"/>
<circle cx="505.7161" cy="1009.2" r="3.1"/>
<circle cx="510.3537" cy="1010.6" r="3.1"/>
<circle cx="514.9914" cy="1009.7" r="3.1"/>
<circle cx="519.629" cy="1010.6" r="3.1"/>
<circle cx="524.2666" cy="1009.5" r="3.1"/>
<circle cx="528.9042" cy="1009.7" r="3.1"/>
<circle cx="533.5419" cy="1010.9" r="3.1"/>
<circle cx="538.1795" cy="1012.1" r="3.1"/>
<circle cx="542.8171" cy="1010.9" r="3.1"/>
<circle cx="547.4547" cy="1011.8" r="3.1"/>
<circle cx="552.0924" cy="1013.2" r="3.1"/>
<circle cx="556.73" cy="1014.4" r="3.1"/>
<circle cx="561.3676" cy="1013.9" r="3.1"/>
<circle cx="566.0053" cy="1013" r="3.1"/>
<circle cx="570.6429" cy="1014.4" r="3.1"/>
<circle cx="575.2805" cy="1012.1" r="3.1"/>
<circle cx="579.9181" cy="1014.4" r="3.1"/>
<circle cx="584.5557" cy="1014.4" r="3.1"/>
<circle cx="589.1934" cy="1013.9" r="3.1"/>
<circle cx="593.831" cy="1010.9" r="3.1"/>
<circle cx="598.4686" cy="1010.6" r="3.1"/>
<circle cx="603.1062" cy="1008.4" r="3.1"/>
<circle cx="607.7439" cy="1006.1" r="3.1"/>
<circle cx="612.3815" cy="1006.9" r="3.1"/>
<circle cx="617.0191" cy="1005.7" r="3.1"/>
<circle cx="621.6567" cy="1003.9" r="3.1"/>
<circle cx="626.2944" cy="1004.8" r="3.1"/>
<circle cx="630.932" cy="1005.1" r="3.1"/>
<circle cx="635.5696" cy="1004.4" r="3.1"/>
<circle cx="640.2072" cy="1008.6" r="3.1"/>
<circle cx="644.8449" cy="1008.6" r="3.1"/>
<circle cx="649.4825" cy="1010.9" r="3.1"/>
<circle cx="654.1201" cy="1011.8" r="3.1"/>
<circle cx="658.7577" cy="1014.9" r="3.1"/>
<circle cx="663.3954" cy="1014.4" r="3.1"/>
<circle cx="668.033" cy="1015.3" r="3.1"/>
<circle cx="672.6706" cy="1015.3" r="3.1"/>
<circle cx="677.3083" cy="1015.3" r="3.1"/>
</g>
<path d="M92.9675 1011.5L108.4262 1005.9L123.885 999.9L139.3438 997.6L154.8025 999.2L170.2613 1003L185.72 1005.9L201.1787 1006.6L216.6375 1007.6L232.0962 1008.5L247.555 1007.9L263.0138 1006.8L278.4725 1005.1L293.9312 1005.7L309.39 1009.4L324.8487 1013.3L340.3075 1013.9L355.7663 1014.5L371.225 1015L386.6838 1015.5L402.1425 1015.8L417.6012 1016L433.06 1016L448.5188 1016L463.9775 1016L479.4363 1016L494.895 1016L510.3537 1016L525.8125 1016L541.2713 1016L556.73 1016L572.1888 1016L587.6475 1016L603.1062 1016L618.565 1016L634.0237 1016L649.4825 1016L664.9412 1016" fill="none" stroke="#303030" stroke-width="0.8" stroke-linejoin="round"/>
<g fill="#fff" stroke="#303030" stroke-width="0.85" stroke-linejoin="miter">
<path d="M92.9675 1008.85L96.1175 1014.35L89.8175 1014.35Z"/>
<path d="M108.4262 1003.25L111.5763 1008.75L105.2762 1008.75Z"/>
<path d="M123.885 997.25L127.035 1002.75L120.735 1002.75Z"/>
<path d="M139.3438 994.95L142.4938 1000.45L136.1937 1000.45Z"/>
<path d="M154.8025 996.55L157.9525 1002.05L151.6525 1002.05Z"/>
<path d="M170.2613 1000.35L173.4113 1005.85L167.1113 1005.85Z"/>
<path d="M185.72 1003.25L188.87 1008.75L182.57 1008.75Z"/>
<path d="M201.1787 1003.95L204.3287 1009.45L198.0287 1009.45Z"/>
<path d="M216.6375 1004.95L219.7875 1010.45L213.4875 1010.45Z"/>
<path d="M232.0962 1005.85L235.2463 1011.35L228.9462 1011.35Z"/>
<path d="M247.555 1005.25L250.705 1010.75L244.405 1010.75Z"/>
<path d="M263.0138 1004.15L266.1637 1009.65L259.8638 1009.65Z"/>
<path d="M278.4725 1002.45L281.6225 1007.95L275.3225 1007.95Z"/>
<path d="M293.9312 1003.05L297.0812 1008.55L290.7812 1008.55Z"/>
<path d="M309.39 1006.75L312.54 1012.25L306.24 1012.25Z"/>
<path d="M324.8487 1010.65L327.9987 1016.15L321.6988 1016.15Z"/>
<path d="M340.3075 1011.25L343.4575 1016.75L337.1575 1016.75Z"/>
<path d="M355.7663 1011.85L358.9162 1017.35L352.6163 1017.35Z"/>
<path d="M371.225 1012.35L374.375 1017.85L368.075 1017.85Z"/>
<path d="M386.6838 1012.85L389.8338 1018.35L383.5338 1018.35Z"/>
<path d="M402.1425 1013.15L405.2925 1018.65L398.9925 1018.65Z"/>
<path d="M417.6012 1013.35L420.7512 1018.85L414.4513 1018.85Z"/>
<path d="M433.06 1013.35L436.21 1018.85L429.91 1018.85Z"/>
<path d="M448.5188 1013.35L451.6687 1018.85L445.3688 1018.85Z"/>
<path d="M463.9775 1013.35L467.1275 1018.85L460.8275 1018.85Z"/>
<path d="M479.4363 1013.35L482.5863 1018.85L476.2863 1018.85Z"/>
<path d="M494.895 1013.35L498.045 1018.85L491.745 1018.85Z"/>
<path d="M510.3537 1013.35L513.5037 1018.85L507.2038 1018.85Z"/>
<path d="M525.8125 1013.35L528.9625 1018.85L522.6625 1018.85Z"/>
<path d="M541.2713 1013.35L544.4212 1018.85L538.1213 1018.85Z"/>
<path d="M556.73 1013.35L559.88 1018.85L553.58 1018.85Z"/>
<path d="M572.1888 1013.35L575.3388 1018.85L569.0388 1018.85Z"/>
<path d="M587.6475 1013.35L590.7975 1018.85L584.4975 1018.85Z"/>
<path d="M603.1062 1013.35L606.2562 1018.85L599.9562 1018.85Z"/>
<path d="M618.565 1013.35L621.715 1018.85L615.415 1018.85Z"/>
<path d="M634.0237 1013.35L637.1737 1018.85L630.8737 1018.85Z"/>
<path d="M649.4825 1013.35L652.6325 1018.85L646.3325 1018.85Z"/>
<path d="M664.9412 1013.35L668.0912 1018.85L661.7912 1018.85Z"/>
</g>
<path d="M92.9675 1015.5L108.4262 1014.9L123.885 982.4L139.3438 956.9L154.8025 971.2L170.2613 986.9L185.72 1001.5L201.1787 999.9L216.6375 996.8L232.0962 993.2L247.555 1001.9L263.0138 1005.7L278.4725 1008.5L293.9312 1010.1L309.39 1011.8L324.8487 1013.7L340.3075 1013.7L355.7663 1013.7L371.225 1013.6L386.6838 1013.9L402.1425 1013.9L417.6012 1013.9L433.06 1013.9L448.5188 1013.9L463.9775 1013.9L479.4363 1013.9L494.895 1013.9L510.3537 1013.9L525.8125 1013.9L541.2713 1013.9L556.73 1013.9L572.1888 1013.9L587.6475 1013.9L603.1062 1012.7L618.565 1012.3L634.0237 1014.9L649.4825 1015.5L664.9412 1015.8" fill="none" stroke="#303030" stroke-width="0.8" stroke-linejoin="round"/>
<g fill="#fff" stroke="#303030" stroke-width="0.85">
<rect x="90.3175" y="1013.05" width="5.3" height="4.9"/>
<rect x="105.7762" y="1012.45" width="5.3" height="4.9"/>
<rect x="121.235" y="979.95" width="5.3" height="4.9"/>
<rect x="136.6937" y="954.45" width="5.3" height="4.9"/>
<rect x="152.1525" y="968.75" width="5.3" height="4.9"/>
<rect x="167.6113" y="984.45" width="5.3" height="4.9"/>
<rect x="183.07" y="999.05" width="5.3" height="4.9"/>
<rect x="198.5287" y="997.45" width="5.3" height="4.9"/>
<rect x="213.9875" y="994.35" width="5.3" height="4.9"/>
<rect x="229.4462" y="990.75" width="5.3" height="4.9"/>
<rect x="244.905" y="999.45" width="5.3" height="4.9"/>
<rect x="260.3638" y="1003.25" width="5.3" height="4.9"/>
<rect x="275.8225" y="1006.05" width="5.3" height="4.9"/>
<rect x="291.2812" y="1007.65" width="5.3" height="4.9"/>
<rect x="306.74" y="1009.35" width="5.3" height="4.9"/>
<rect x="322.1988" y="1011.25" width="5.3" height="4.9"/>
<rect x="337.6575" y="1011.25" width="5.3" height="4.9"/>
<rect x="353.1163" y="1011.25" width="5.3" height="4.9"/>
<rect x="368.575" y="1011.15" width="5.3" height="4.9"/>
<rect x="384.0338" y="1011.45" width="5.3" height="4.9"/>
<rect x="399.4925" y="1011.45" width="5.3" height="4.9"/>
<rect x="414.9513" y="1011.45" width="5.3" height="4.9"/>
<rect x="430.41" y="1011.45" width="5.3" height="4.9"/>
<rect x="445.8688" y="1011.45" width="5.3" height="4.9"/>
<rect x="461.3275" y="1011.45" width="5.3" height="4.9"/>
<rect x="476.7863" y="1011.45" width="5.3" height="4.9"/>
<rect x="492.245" y="1011.45" width="5.3" height="4.9"/>
<rect x="507.7038" y="1011.45" width="5.3" height="4.9"/>
<rect x="523.1625" y="1011.45" width="5.3" height="4.9"/>
<rect x="538.6213" y="1011.45" width="5.3" height="4.9"/>
<rect x="554.08" y="1011.45" width="5.3" height="4.9"/>
<rect x="569.5388" y="1011.45" width="5.3" height="4.9"/>
<rect x="584.9975" y="1011.45" width="5.3" height="4.9"/>
<rect x="600.4562" y="1010.25" width="5.3" height="4.9"/>
<rect x="615.915" y="1009.85" width="5.3" height="4.9"/>
<rect x="631.3737" y="1012.45" width="5.3" height="4.9"/>
<rect x="646.8325" y="1013.05" width="5.3" height="4.9"/>
<rect x="662.2912" y="1013.35" width="5.3" height="4.9"/>
</g>
<path d="M92.9675 1015.8L108.4262 943.3L123.885 822.4L139.3438 824.7L154.8025 815.1L170.2613 800.6L185.72 783.6L201.1787 839.2L216.6375 863.3L232.0962 897.5L247.555 933.7L263.0138 944.9L278.4725 951.2L293.9312 959.4L309.39 971.9L324.8487 980.5L340.3075 996.3L355.7663 1008.5L371.225 1010.9L386.6838 1013.9L402.1425 1011.3L417.6012 1013.9L433.06 1016.2L448.5188 1016.3L463.9775 1016.3L479.4363 1016.3L494.895 1016.3L510.3537 1016.3L525.8125 1016.3L541.2713 1016.3L556.73 1016.3L572.1888 1016.3L587.6475 1016.3L603.1062 1016.3L618.565 1016.3L634.0237 1016.3L649.4825 1016.3L664.9412 1016.3" fill="none" stroke="#303030" stroke-width="0.8" stroke-linejoin="round"/>
<g fill="#fff" stroke="#303030" stroke-width="0.85">
<ellipse cx="92.9675" cy="1015.8" rx="3.1" ry="2.95"/>
<ellipse cx="108.4262" cy="943.3" rx="3.1" ry="2.95"/>
<ellipse cx="123.885" cy="822.4" rx="3.1" ry="2.95"/>
<ellipse cx="139.3438" cy="824.7" rx="3.1" ry="2.95"/>
<ellipse cx="154.8025" cy="815.1" rx="3.1" ry="2.95"/>
<ellipse cx="170.2613" cy="800.6" rx="3.1" ry="2.95"/>
<ellipse cx="185.72" cy="783.6" rx="3.1" ry="2.95"/>
<ellipse cx="201.1787" cy="839.2" rx="3.1" ry="2.95"/>
<ellipse cx="216.6375" cy="863.3" rx="3.1" ry="2.95"/>
<ellipse cx="232.0962" cy="897.5" rx="3.1" ry="2.95"/>
<ellipse cx="247.555" cy="933.7" rx="3.1" ry="2.95"/>
<ellipse cx="263.0138" cy="944.9" rx="3.1" ry="2.95"/>
<ellipse cx="278.4725" cy="951.2" rx="3.1" ry="2.95"/>
<ellipse cx="293.9312" cy="959.4" rx="3.1" ry="2.95"/>
<ellipse cx="309.39" cy="971.9" rx="3.1" ry="2.95"/>
<ellipse cx="324.8487" cy="980.5" rx="3.1" ry="2.95"/>
<ellipse cx="340.3075" cy="996.3" rx="3.1" ry="2.95"/>
<ellipse cx="355.7663" cy="1008.5" rx="3.1" ry="2.95"/>
<ellipse cx="371.225" cy="1010.9" rx="3.1" ry="2.95"/>
<ellipse cx="386.6838" cy="1013.9" rx="3.1" ry="2.95"/>
<ellipse cx="402.1425" cy="1011.3" rx="3.1" ry="2.95"/>
<ellipse cx="417.6012" cy="1013.9" rx="3.1" ry="2.95"/>
<ellipse cx="433.06" cy="1016.2" rx="3.1" ry="2.95"/>
<ellipse cx="448.5188" cy="1016.3" rx="3.1" ry="2.95"/>
<ellipse cx="463.9775" cy="1016.3" rx="3.1" ry="2.95"/>
<ellipse cx="479.4363" cy="1016.3" rx="3.1" ry="2.95"/>
<ellipse cx="494.895" cy="1016.3" rx="3.1" ry="2.95"/>
<ellipse cx="510.3537" cy="1016.3" rx="3.1" ry="2.95"/>
<ellipse cx="525.8125" cy="1016.3" rx="3.1" ry="2.95"/>
<ellipse cx="541.2713" cy="1016.3" rx="3.1" ry="2.95"/>
<ellipse cx="556.73" cy="1016.3" rx="3.1" ry="2.95"/>
<ellipse cx="572.1888" cy="1016.3" rx="3.1" ry="2.95"/>
<ellipse cx="587.6475" cy="1016.3" rx="3.1" ry="2.95"/>
<ellipse cx="603.1062" cy="1016.3" rx="3.1" ry="2.95"/>
<ellipse cx="618.565" cy="1016.3" rx="3.1" ry="2.95"/>
<ellipse cx="634.0237" cy="1016.3" rx="3.1" ry="2.95"/>
<ellipse cx="649.4825" cy="1016.3" rx="3.1" ry="2.95"/>
<ellipse cx="664.9412" cy="1016.3" rx="3.1" ry="2.95"/>
</g>
</g>
<text transform="matrix(0.144 0 0 0.144 28.724 1020.6)" font-size="100" stroke="#000" stroke-width="2.0833" fill="#000">0,0</text>
<text transform="matrix(0.144 0 0 0.144 693.624 1020.2)" font-size="100" stroke="#000" stroke-width="2.0833" fill="#000">0</text>
<text transform="matrix(0.144 0 0 0.144 28.904 962.75)" font-size="100" stroke="#000" stroke-width="2.0833" fill="#000">0,2</text>
<text transform="matrix(0.144 0 0 0.144 692.78 962.4643)" font-size="100" stroke="#000" stroke-width="2.0833" fill="#000">20</text>
<text transform="matrix(0.144 0 0 0.144 28.58 904.9)" font-size="100" stroke="#000" stroke-width="2.0833" fill="#000">0,4</text>
<text transform="matrix(0.144 0 0 0.144 693.176 904.7286)" font-size="100" stroke="#000" stroke-width="2.0833" fill="#000">40</text>
<text transform="matrix(0.144 0 0 0.144 28.796 847.05)" font-size="100" stroke="#000" stroke-width="2.0833" fill="#000">0,6</text>
<text transform="matrix(0.144 0 0 0.144 692.78 846.9929)" font-size="100" stroke="#000" stroke-width="2.0833" fill="#000">60</text>
<text transform="matrix(0.144 0 0 0.144 28.796 789.2)" font-size="100" stroke="#000" stroke-width="2.0833" fill="#000">0,8</text>
<text transform="matrix(0.144 0 0 0.144 692.888 789.2571)" font-size="100" stroke="#000" stroke-width="2.0833" fill="#000">80</text>
<text transform="matrix(0.144 0 0 0.144 28.724 731.35)" font-size="100" stroke="#000" stroke-width="2.0833" fill="#000">1,0</text>
<text transform="matrix(0.144 0 0 0.144 694.32 731.5214)" font-size="100" stroke="#000" stroke-width="2.0833" fill="#000">100</text>
<text transform="matrix(0.144 0 0 0.144 28.904 673.5)" font-size="100" stroke="#000" stroke-width="2.0833" fill="#000">1,2</text>
<text transform="matrix(0.144 0 0 0.144 694.32 673.7857)" font-size="100" stroke="#000" stroke-width="2.0833" fill="#000">120</text>
<text transform="matrix(0.144 0 0 0.144 28.58 615.65)" font-size="100" stroke="#000" stroke-width="2.0833" fill="#000">1,4</text>
<text transform="matrix(0.144 0 0 0.144 694.32 616.05)" font-size="100" stroke="#000" stroke-width="2.0833" fill="#000">140</text>
<text transform="matrix(0.144 0 0 0.144 53.768 1040.9)" font-size="100" stroke="#000" stroke-width="2.0833" fill="#000">20</text>
<text transform="matrix(0.144 0 0 0.144 131.0798 1040.9)" font-size="100" stroke="#000" stroke-width="2.0833" fill="#000">25</text>
<text transform="matrix(0.144 0 0 0.144 208.4455 1040.9)" font-size="100" stroke="#000" stroke-width="2.0833" fill="#000">30</text>
<text transform="matrix(0.144 0 0 0.144 285.7572 1040.9)" font-size="100" stroke="#000" stroke-width="2.0833" fill="#000">35</text>
<text transform="matrix(0.144 0 0 0.144 363.141 1040.9)" font-size="100" stroke="#000" stroke-width="2.0833" fill="#000">40</text>
<text transform="matrix(0.144 0 0 0.144 440.4528 1040.9)" font-size="100" stroke="#000" stroke-width="2.0833" fill="#000">45</text>
<text transform="matrix(0.144 0 0 0.144 517.6025 1040.9)" font-size="100" stroke="#000" stroke-width="2.0833" fill="#000">50</text>
<text transform="matrix(0.144 0 0 0.144 594.9142 1040.9)" font-size="100" stroke="#000" stroke-width="2.0833" fill="#000">55</text>
<text transform="matrix(0.144 0 0 0.144 672.118 1040.9)" font-size="100" stroke="#000" stroke-width="2.0833" fill="#000">60</text>
<text transform="matrix(0.144 0 0 0.144 98.15 595.35)" font-size="100" stroke="#000" stroke-width="2.0833" fill="#000">6</text>
<text transform="matrix(0.144 0 0 0.144 232.614 595.35)" font-size="100" stroke="#000" stroke-width="2.0833" fill="#000">5</text>
<text transform="matrix(0.144 0 0 0.144 367.06 595.35)" font-size="100" stroke="#000" stroke-width="2.0833" fill="#000">4</text>
<text transform="matrix(0.144 0 0 0.144 501.47 595.35)" font-size="100" stroke="#000" stroke-width="2.0833" fill="#000">3</text>
<text transform="matrix(0.144 0 0 0.144 635.844 595.35)" font-size="100" stroke="#000" stroke-width="2.0833" fill="#000">2</text>
<text transform="matrix(0.1875 0 0 0.1876 318.4528 575.95)" font-size="100" stroke="#000" stroke-width="1.5988" fill="#000">Lg(M) [g/mol]</text>
<text transform="matrix(0.1849 0 0 0.1891 340.5075 1068.85)" font-size="100" stroke="#000" stroke-width="1.5865" fill="#000">Ve [mL]</text>
<text transform="matrix(0 -0.1858 0.1807 0 14.4 882.4042)" font-size="100" stroke="#000" stroke-width="1.6146" fill="#000">mass fraction</text>
<text transform="matrix(0 -0.1853 0.1959 0 737.9 922.9544)" font-size="100" stroke="#000" stroke-width="1.619" fill="#000">percent of mass fraction</text>
</g>
<text transform="matrix(0.2592 0 0 0.2865 0.2225 16.3)" font-size="100" font-weight="bold" fill="#000">a</text>
<text transform="matrix(0.299 0 0 0.28 -0.4436 576)" font-size="100" font-weight="bold" fill="#000">b</text>
<g>
<path d="M342.4 86.2H644.3V283.1H342.4Z" fill="none" stroke="#1a1a1a" stroke-width="1.05" stroke-linejoin="miter"/>
<path d="M342.4 283.1v3.8M361.2687 283.1v1.8M380.1375 283.1v3.8M399.0062 283.1v1.8M417.875 283.1v3.8M436.7437 283.1v1.8M455.6125 283.1v3.8M474.4812 283.1v1.8M493.35 283.1v3.8M512.2188 283.1v1.8M531.0875 283.1v3.8M549.9562 283.1v1.8M568.825 283.1v3.8M587.6937 283.1v1.8M606.5625 283.1v3.8M625.4312 283.1v1.8M644.3 283.1v3.8M361.9858 86.2v-3.8M427.6717 86.2v-3.8M493.3575 86.2v-3.8M559.0434 86.2v-3.8M624.7293 86.2v-3.8M342.4 283.1h-3.8M644.3 283.1h3.8M342.4 263.41h-1.8M644.3 263.41h1.8M342.4 243.72h-3.8M644.3 243.72h3.8M342.4 224.03h-1.8M644.3 224.03h1.8M342.4 204.34h-3.8M644.3 204.34h3.8M342.4 184.65h-1.8M644.3 184.65h1.8M342.4 164.96h-3.8M644.3 164.96h3.8M342.4 145.27h-1.8M644.3 145.27h1.8M342.4 125.58h-3.8M644.3 125.58h3.8M342.4 105.89h-1.8M644.3 105.89h1.8M342.4 86.2h-3.8M644.3 86.2h3.8" fill="none" stroke="#1a1a1a" stroke-width="0.9"/>
<clipPath id="clip3"><rect x="342.4" y="86.2" width="301.9" height="197.2"/></clipPath>
<g clip-path="url(#clip3)">
<path d="M343.9095 283C344.2869 283 345.419 283 346.1737 283C346.9285 283 347.6832 283 348.438 283C349.1927 283 349.9475 283 350.7022 283C351.457 283 352.2117 283 352.9665 283C353.7212 283 354.476 283.1333 355.2308 283C355.9855 282.8667 356.7402 282.6333 357.495 282.2C358.2497 281.7667 359.0045 282.4667 359.7592 280.4C360.514 278.3333 361.2687 275.4667 362.0235 269.8C362.7782 264.1333 363.533 253.6 364.2877 246.4C365.0425 239.2 365.7972 233.1667 366.552 226.6C367.3067 220.0333 368.0615 210.9833 368.8162 207C369.571 203.0167 370.3257 203.1 371.0805 202.7C371.8352 202.3 372.59 203.6833 373.3447 204.6C374.0995 205.5167 374.8542 206.3833 375.609 208.2C376.3637 210.0167 377.1185 212.7667 377.8732 215.5C378.628 218.2333 379.3827 222.1833 380.1375 224.6C380.8922 227.0167 381.647 228.8 382.4017 230C383.1565 231.2 383.9112 231.15 384.666 231.8C385.4207 232.45 386.1755 233.4333 386.9303 233.9C387.685 234.3667 388.4397 234.4 389.1945 234.6C389.9492 234.8 390.704 235.0167 391.4587 235.1C392.2135 235.1833 392.9682 235.0333 393.723 235.1C394.4777 235.1667 395.2325 235.3333 395.9872 235.5C396.742 235.6667 397.4967 236.1667 398.2515 236.1C399.0062 236.0333 399.761 235.3 400.5157 235.1C401.2705 234.9 402.0252 234.9 402.78 234.9C403.5347 234.9 404.2895 235.4 405.0442 235.1C405.799 234.8 406.5537 233.5333 407.3085 233.1C408.0632 232.6667 408.818 232.7167 409.5727 232.5C410.3275 232.2833 411.0822 232.0167 411.837 231.8C412.5917 231.5833 413.3465 231.4 414.1012 231.2C414.856 231 415.6107 230.8333 416.3655 230.6C417.1202 230.3667 417.875 229.75 418.6297 229.8C419.3845 229.85 420.1392 231.1 420.894 230.9C421.6487 230.7 422.4035 229.3 423.1582 228.6C423.913 227.9 424.6677 228.1833 425.4225 226.7C426.1772 225.2167 426.932 221.3667 427.6867 219.7C428.4415 218.0333 429.1962 217.9167 429.951 216.7C430.7057 215.4833 431.4605 213.6167 432.2152 212.4C432.97 211.1833 433.7247 210.0667 434.4795 209.4C435.2342 208.7333 435.989 208.5667 436.7437 208.4C437.4985 208.2333 438.2532 208.3667 439.008 208.4C439.7627 208.4333 440.5175 208.4333 441.2722 208.6C442.027 208.7667 442.7817 208.8 443.5365 209.4C444.2912 210 445.046 211.2833 445.8007 212.2C446.5555 213.1167 447.3102 214.15 448.065 214.9C448.8197 215.65 449.5745 215.8 450.3292 216.7C451.084 217.6 451.8387 220.2 452.5935 220.3C453.3482 220.4 454.103 218.2 454.8577 217.3C455.6125 216.4 456.3672 215.5667 457.122 214.9C457.8767 214.2333 458.6315 213.4667 459.3862 213.3C460.141 213.1333 460.8957 213.1333 461.6505 213.9C462.4052 214.6667 463.16 215.9167 463.9147 217.9C464.6695 219.8833 465.4242 222.8667 466.179 225.8C466.9337 228.7333 467.6885 233.1333 468.4432 235.5C469.198 237.8667 469.9527 238.8833 470.7075 240C471.4622 241.1167 472.217 241.5333 472.9717 242.2C473.7265 242.8667 474.4812 243.5 475.236 244C475.9907 244.5 476.7455 244.8667 477.5002 245.2C478.255 245.5333 479.0097 245.8 479.7645 246C480.5192 246.2 481.274 246.3 482.0287 246.4C482.7835 246.5 483.5382 246.5 484.293 246.6C485.0477 246.7 485.8025 246.8833 486.5572 247C487.312 247.1167 488.0667 247.2 488.8215 247.3C489.5762 247.4 490.331 247.35 491.0857 247.6C491.8405 247.85 492.5952 248.5 493.35 248.8C494.1047 249.1 494.8595 249.65 495.6142 249.4C496.369 249.15 497.1237 247.25 497.8785 247.3C498.6332 247.35 499.388 249.45 500.1427 249.7C500.8975 249.95 501.6522 249.25 502.407 248.8C503.1617 248.35 503.9165 247.0833 504.6712 247C505.426 246.9167 506.1807 248.0167 506.9355 248.3C507.6902 248.5833 508.445 248.65 509.1997 248.7C509.9545 248.75 510.7092 248.6333 511.464 248.6C512.2187 248.5667 512.9735 248.5667 513.7282 248.5C514.483 248.4333 515.2377 248.1833 515.9925 248.2C516.7473 248.2167 517.502 248.7 518.2568 248.6C519.0115 248.5 519.7663 247.9667 520.521 247.6C521.2757 247.2333 522.0305 246.7 522.7852 246.4C523.54 246.1 524.2947 245.9333 525.0495 245.8C525.8043 245.6667 526.559 245.85 527.3138 245.6C528.0685 245.35 528.8233 244.6667 529.578 244.3C530.3327 243.9333 531.0875 243.9667 531.8422 243.4C532.597 242.8333 533.3518 242.0167 534.1065 240.9C534.8612 239.7833 535.616 238.3167 536.3707 236.7C537.1255 235.0833 537.8802 233.9333 538.635 231.2C539.3898 228.4667 540.1445 223.2167 540.8992 220.3C541.654 217.3833 542.4087 215.55 543.1635 213.7C543.9182 211.85 544.673 210.3667 545.4277 209.2C546.1825 208.0333 546.9372 207.2167 547.692 206.7C548.4468 206.1833 549.2015 206.15 549.9562 206.1C550.711 206.05 551.4657 205.9833 552.2205 206.4C552.9752 206.8167 553.73 207.15 554.4847 208.6C555.2395 210.05 555.9942 212.3 556.749 215.1C557.5037 217.9 558.2585 221.7333 559.0132 225.4C559.768 229.0667 560.5227 234.55 561.2775 237.1C562.0322 239.65 562.787 239.7167 563.5417 240.7C564.2965 241.6833 565.0512 242.45 565.806 243C566.5607 243.55 567.3155 243.5667 568.0702 244C568.825 244.4333 569.5797 245.3 570.3345 245.6C571.0892 245.9 571.844 245.7333 572.5987 245.8C573.3535 245.8667 574.1082 245.8833 574.863 246C575.6178 246.1167 576.3725 246.5 577.1273 246.5C577.882 246.5 578.6368 246.2167 579.3915 246C580.1462 245.7833 580.901 245.5167 581.6557 245.2C582.4105 244.8833 583.1652 244.5 583.92 244.1C584.6748 243.7 585.4295 243.45 586.1843 242.8C586.939 242.15 587.6938 240.9167 588.4485 240.2C589.2032 239.4833 589.958 238.6167 590.7127 238.5C591.4675 238.3833 592.2223 239.1 592.977 239.5C593.7317 239.9 594.4865 240.4167 595.2412 240.9C595.996 241.3833 596.7507 241.6833 597.5055 242.4C598.2603 243.1167 599.015 244.4333 599.7697 245.2C600.5245 245.9667 601.2792 246.5 602.034 247C602.7887 247.5 603.5435 247.8333 604.2983 248.2C605.053 248.5667 605.8078 249.0333 606.5625 249.2C607.3172 249.3667 608.072 249.6667 608.8267 249.2C609.5815 248.7333 610.3362 247.4667 611.091 246.4C611.8457 245.3333 612.6005 243.8167 613.3552 242.8C614.11 241.7833 614.8647 240.8667 615.6195 240.3C616.3743 239.7333 617.129 239.65 617.8837 239.4C618.6385 239.15 619.3932 238.2333 620.148 238.8C620.9027 239.3667 621.6575 241.6667 622.4122 242.8C623.167 243.9333 623.9217 243.9833 624.6765 245.6C625.4312 247.2167 626.186 249.4333 626.9407 252.5C627.6955 255.5667 628.4502 260.3667 629.205 264C629.9597 267.6333 630.7145 271.7167 631.4692 274.3C632.224 276.8833 632.9787 278.2833 633.7335 279.5C634.4883 280.7167 635.243 281.1167 635.9977 281.6C636.7525 282.0833 637.5072 282.2 638.262 282.4C639.0167 282.6 639.7715 282.7333 640.5262 282.8C641.281 282.8667 642.4131 282.8 642.7905 282.8" fill="none" stroke="#606060" stroke-width="0.55" stroke-linejoin="round"/>
<g fill="#000">
<circle cx="343.9095" cy="283" r="1.55"/>
<circle cx="346.1737" cy="283" r="1.55"/>
<circle cx="348.438" cy="283" r="1.55"/>
<circle cx="350.7022" cy="283" r="1.55"/>
<circle cx="352.9665" cy="283" r="1.55"/>
<circle cx="355.2308" cy="283" r="1.55"/>
<circle cx="357.495" cy="282.2" r="1.55"/>
<circle cx="359.7592" cy="280.4" r="1.55"/>
<circle cx="362.0235" cy="269.8" r="1.55"/>
<circle cx="364.2877" cy="246.4" r="1.55"/>
<circle cx="366.552" cy="226.6" r="1.55"/>
<circle cx="368.8162" cy="207" r="1.55"/>
<circle cx="371.0805" cy="202.7" r="1.55"/>
<circle cx="373.3447" cy="204.6" r="1.55"/>
<circle cx="375.609" cy="208.2" r="1.55"/>
<circle cx="377.8732" cy="215.5" r="1.55"/>
<circle cx="380.1375" cy="224.6" r="1.55"/>
<circle cx="382.4017" cy="230" r="1.55"/>
<circle cx="384.666" cy="231.8" r="1.55"/>
<circle cx="386.9303" cy="233.9" r="1.55"/>
<circle cx="389.1945" cy="234.6" r="1.55"/>
<circle cx="391.4587" cy="235.1" r="1.55"/>
<circle cx="393.723" cy="235.1" r="1.55"/>
<circle cx="395.9872" cy="235.5" r="1.55"/>
<circle cx="398.2515" cy="236.1" r="1.55"/>
<circle cx="400.5157" cy="235.1" r="1.55"/>
<circle cx="402.78" cy="234.9" r="1.55"/>
<circle cx="405.0442" cy="235.1" r="1.55"/>
<circle cx="407.3085" cy="233.1" r="1.55"/>
<circle cx="409.5727" cy="232.5" r="1.55"/>
<circle cx="411.837" cy="231.8" r="1.55"/>
<circle cx="414.1012" cy="231.2" r="1.55"/>
<circle cx="416.3655" cy="230.6" r="1.55"/>
<circle cx="418.6297" cy="229.8" r="1.55"/>
<circle cx="420.894" cy="230.9" r="1.55"/>
<circle cx="423.1582" cy="228.6" r="1.55"/>
<circle cx="425.4225" cy="226.7" r="1.55"/>
<circle cx="427.6867" cy="219.7" r="1.55"/>
<circle cx="429.951" cy="216.7" r="1.55"/>
<circle cx="432.2152" cy="212.4" r="1.55"/>
<circle cx="434.4795" cy="209.4" r="1.55"/>
<circle cx="436.7437" cy="208.4" r="1.55"/>
<circle cx="439.008" cy="208.4" r="1.55"/>
<circle cx="441.2722" cy="208.6" r="1.55"/>
<circle cx="443.5365" cy="209.4" r="1.55"/>
<circle cx="445.8007" cy="212.2" r="1.55"/>
<circle cx="448.065" cy="214.9" r="1.55"/>
<circle cx="450.3292" cy="216.7" r="1.55"/>
<circle cx="452.5935" cy="220.3" r="1.55"/>
<circle cx="454.8577" cy="217.3" r="1.55"/>
<circle cx="457.122" cy="214.9" r="1.55"/>
<circle cx="459.3862" cy="213.3" r="1.55"/>
<circle cx="461.6505" cy="213.9" r="1.55"/>
<circle cx="463.9147" cy="217.9" r="1.55"/>
<circle cx="466.179" cy="225.8" r="1.55"/>
<circle cx="468.4432" cy="235.5" r="1.55"/>
<circle cx="470.7075" cy="240" r="1.55"/>
<circle cx="472.9717" cy="242.2" r="1.55"/>
<circle cx="475.236" cy="244" r="1.55"/>
<circle cx="477.5002" cy="245.2" r="1.55"/>
<circle cx="479.7645" cy="246" r="1.55"/>
<circle cx="482.0287" cy="246.4" r="1.55"/>
<circle cx="484.293" cy="246.6" r="1.55"/>
<circle cx="486.5572" cy="247" r="1.55"/>
<circle cx="488.8215" cy="247.3" r="1.55"/>
<circle cx="491.0857" cy="247.6" r="1.55"/>
<circle cx="493.35" cy="248.8" r="1.55"/>
<circle cx="495.6142" cy="249.4" r="1.55"/>
<circle cx="497.8785" cy="247.3" r="1.55"/>
<circle cx="500.1427" cy="249.7" r="1.55"/>
<circle cx="502.407" cy="248.8" r="1.55"/>
<circle cx="504.6712" cy="247" r="1.55"/>
<circle cx="506.9355" cy="248.3" r="1.55"/>
<circle cx="509.1997" cy="248.7" r="1.55"/>
<circle cx="511.464" cy="248.6" r="1.55"/>
<circle cx="513.7282" cy="248.5" r="1.55"/>
<circle cx="515.9925" cy="248.2" r="1.55"/>
<circle cx="518.2568" cy="248.6" r="1.55"/>
<circle cx="520.521" cy="247.6" r="1.55"/>
<circle cx="522.7852" cy="246.4" r="1.55"/>
<circle cx="525.0495" cy="245.8" r="1.55"/>
<circle cx="527.3138" cy="245.6" r="1.55"/>
<circle cx="529.578" cy="244.3" r="1.55"/>
<circle cx="531.8422" cy="243.4" r="1.55"/>
<circle cx="534.1065" cy="240.9" r="1.55"/>
<circle cx="536.3707" cy="236.7" r="1.55"/>
<circle cx="538.635" cy="231.2" r="1.55"/>
<circle cx="540.8992" cy="220.3" r="1.55"/>
<circle cx="543.1635" cy="213.7" r="1.55"/>
<circle cx="545.4277" cy="209.2" r="1.55"/>
<circle cx="547.692" cy="206.7" r="1.55"/>
<circle cx="549.9562" cy="206.1" r="1.55"/>
<circle cx="552.2205" cy="206.4" r="1.55"/>
<circle cx="554.4847" cy="208.6" r="1.55"/>
<circle cx="556.749" cy="215.1" r="1.55"/>
<circle cx="559.0132" cy="225.4" r="1.55"/>
<circle cx="561.2775" cy="237.1" r="1.55"/>
<circle cx="563.5417" cy="240.7" r="1.55"/>
<circle cx="565.806" cy="243" r="1.55"/>
<circle cx="568.0702" cy="244" r="1.55"/>
<circle cx="570.3345" cy="245.6" r="1.55"/>
<circle cx="572.5987" cy="245.8" r="1.55"/>
<circle cx="574.863" cy="246" r="1.55"/>
<circle cx="577.1273" cy="246.5" r="1.55"/>
<circle cx="579.3915" cy="246" r="1.55"/>
<circle cx="581.6557" cy="245.2" r="1.55"/>
<circle cx="583.92" cy="244.1" r="1.55"/>
<circle cx="586.1843" cy="242.8" r="1.55"/>
<circle cx="588.4485" cy="240.2" r="1.55"/>
<circle cx="590.7127" cy="238.5" r="1.55"/>
<circle cx="592.977" cy="239.5" r="1.55"/>
<circle cx="595.2412" cy="240.9" r="1.55"/>
<circle cx="597.5055" cy="242.4" r="1.55"/>
<circle cx="599.7697" cy="245.2" r="1.55"/>
<circle cx="602.034" cy="247" r="1.55"/>
<circle cx="604.2983" cy="248.2" r="1.55"/>
<circle cx="606.5625" cy="249.2" r="1.55"/>
<circle cx="608.8267" cy="249.2" r="1.55"/>
<circle cx="611.091" cy="246.4" r="1.55"/>
<circle cx="613.3552" cy="242.8" r="1.55"/>
<circle cx="615.6195" cy="240.3" r="1.55"/>
<circle cx="617.8837" cy="239.4" r="1.55"/>
<circle cx="620.148" cy="238.8" r="1.55"/>
<circle cx="622.4122" cy="242.8" r="1.55"/>
<circle cx="624.6765" cy="245.6" r="1.55"/>
<circle cx="626.9407" cy="252.5" r="1.55"/>
<circle cx="629.205" cy="264" r="1.55"/>
<circle cx="631.4692" cy="274.3" r="1.55"/>
<circle cx="633.7335" cy="279.5" r="1.55"/>
<circle cx="635.9977" cy="281.6" r="1.55"/>
<circle cx="638.262" cy="282.4" r="1.55"/>
<circle cx="640.5262" cy="282.8" r="1.55"/>
<circle cx="642.7905" cy="282.8" r="1.55"/>
</g>
<path d="M357.495 282L365.0425 280.7L372.59 277.6L380.1375 275.5L387.685 276.7L395.2325 277.1L402.78 277.6L410.3275 277.6L417.875 277.6L425.4225 276.7L432.97 276.2L440.5175 276.4L448.065 276.4L455.6125 276.7L463.16 277.1L470.7075 277.7L478.255 279.2L485.8025 280.2L493.35 281L500.8975 281.2L508.445 281.6L515.9925 282.2L523.54 282.6L531.0875 282.8L538.635 282.8L546.1825 282.8L553.73 282.8L561.2775 282.8L568.825 282.8L576.3725 282.8L583.92 282.8L591.4675 282.8L599.015 282.8L606.5625 282.8L614.11 282.8L621.6575 282.8L629.205 282.8L636.7525 282.8" fill="none" stroke="#606060" stroke-width="0.55" stroke-linejoin="round"/>
<g fill="#fff" stroke="#666" stroke-width="0.5" stroke-linejoin="miter">
<path d="M357.495 280.7L359.045 283.4L355.945 283.4Z"/>
<path d="M365.0425 279.4L366.5925 282.1L363.4925 282.1Z"/>
<path d="M372.59 276.3L374.14 279L371.04 279Z"/>
<path d="M380.1375 274.2L381.6875 276.9L378.5875 276.9Z"/>
<path d="M387.685 275.4L389.235 278.1L386.135 278.1Z"/>
<path d="M395.2325 275.8L396.7825 278.5L393.6825 278.5Z"/>
<path d="M402.78 276.3L404.33 279L401.23 279Z"/>
<path d="M410.3275 276.3L411.8775 279L408.7775 279Z"/>
<path d="M417.875 276.3L419.425 279L416.325 279Z"/>
<path d="M425.4225 275.4L426.9725 278.1L423.8725 278.1Z"/>
<path d="M432.97 274.9L434.52 277.6L431.42 277.6Z"/>
<path d="M440.5175 275.1L442.0675 277.8L438.9675 277.8Z"/>
<path d="M448.065 275.1L449.615 277.8L446.515 277.8Z"/>
<path d="M455.6125 275.4L457.1625 278.1L454.0625 278.1Z"/>
<path d="M463.16 275.8L464.71 278.5L461.61 278.5Z"/>
<path d="M470.7075 276.4L472.2575 279.1L469.1575 279.1Z"/>
<path d="M478.255 277.9L479.805 280.6L476.705 280.6Z"/>
<path d="M485.8025 278.9L487.3525 281.6L484.2525 281.6Z"/>
<path d="M493.35 279.7L494.9 282.4L491.8 282.4Z"/>
<path d="M500.8975 279.9L502.4475 282.6L499.3475 282.6Z"/>
<path d="M508.445 280.3L509.995 283L506.895 283Z"/>
<path d="M515.9925 280.9L517.5425 283.6L514.4425 283.6Z"/>
<path d="M523.54 281.3L525.09 284L521.99 284Z"/>
<path d="M531.0875 281.5L532.6375 284.2L529.5375 284.2Z"/>
<path d="M538.635 281.5L540.185 284.2L537.085 284.2Z"/>
<path d="M546.1825 281.5L547.7325 284.2L544.6325 284.2Z"/>
<path d="M553.73 281.5L555.28 284.2L552.18 284.2Z"/>
<path d="M561.2775 281.5L562.8275 284.2L559.7275 284.2Z"/>
<path d="M568.825 281.5L570.375 284.2L567.275 284.2Z"/>
<path d="M576.3725 281.5L577.9225 284.2L574.8225 284.2Z"/>
<path d="M583.92 281.5L585.47 284.2L582.37 284.2Z"/>
<path d="M591.4675 281.5L593.0175 284.2L589.9175 284.2Z"/>
<path d="M599.015 281.5L600.565 284.2L597.465 284.2Z"/>
<path d="M606.5625 281.5L608.1125 284.2L605.0125 284.2Z"/>
<path d="M614.11 281.5L615.66 284.2L612.56 284.2Z"/>
<path d="M621.6575 281.5L623.2075 284.2L620.1075 284.2Z"/>
<path d="M629.205 281.5L630.755 284.2L627.655 284.2Z"/>
<path d="M636.7525 281.5L638.3025 284.2L635.2025 284.2Z"/>
</g>
<path d="M365.0425 283L372.59 283L380.1375 282.8L387.685 282.4L395.2325 282L402.78 281.6L410.3275 281.6L417.875 281.1L425.4225 277.3L432.97 276.1L440.5175 271.5L448.065 269.4L455.6125 268.2L463.16 269.4L470.7075 276.6L478.255 279.8L485.8025 282L493.35 282.8L500.8975 283L508.445 283L515.9925 283L523.54 283L531.0875 282.8L538.635 277.6L546.1825 273.5L553.73 268.6L561.2775 266.8L568.825 268.2L576.3725 270L583.92 269.7L591.4675 273.1L599.015 274.1L606.5625 274.1L614.11 271.3L621.6575 273.2L629.205 279.8L636.7525 281.9" fill="none" stroke="#606060" stroke-width="0.55" stroke-linejoin="round"/>
<g fill="#fff" stroke="#666" stroke-width="0.5">
<rect x="363.7425" y="281.8" width="2.6" height="2.4"/>
<rect x="371.29" y="281.8" width="2.6" height="2.4"/>
<rect x="378.8375" y="281.6" width="2.6" height="2.4"/>
<rect x="386.385" y="281.2" width="2.6" height="2.4"/>
<rect x="393.9325" y="280.8" width="2.6" height="2.4"/>
<rect x="401.48" y="280.4" width="2.6" height="2.4"/>
<rect x="409.0275" y="280.4" width="2.6" height="2.4"/>
<rect x="416.575" y="279.9" width="2.6" height="2.4"/>
<rect x="424.1225" y="276.1" width="2.6" height="2.4"/>
<rect x="431.67" y="274.9" width="2.6" height="2.4"/>
<rect x="439.2175" y="270.3" width="2.6" height="2.4"/>
<rect x="446.765" y="268.2" width="2.6" height="2.4"/>
<rect x="454.3125" y="267" width="2.6" height="2.4"/>
<rect x="461.86" y="268.2" width="2.6" height="2.4"/>
<rect x="469.4075" y="275.4" width="2.6" height="2.4"/>
<rect x="476.955" y="278.6" width="2.6" height="2.4"/>
<rect x="484.5025" y="280.8" width="2.6" height="2.4"/>
<rect x="492.05" y="281.6" width="2.6" height="2.4"/>
<rect x="499.5975" y="281.8" width="2.6" height="2.4"/>
<rect x="507.145" y="281.8" width="2.6" height="2.4"/>
<rect x="514.6925" y="281.8" width="2.6" height="2.4"/>
<rect x="522.24" y="281.8" width="2.6" height="2.4"/>
<rect x="529.7875" y="281.6" width="2.6" height="2.4"/>
<rect x="537.335" y="276.4" width="2.6" height="2.4"/>
<rect x="544.8825" y="272.3" width="2.6" height="2.4"/>
<rect x="552.43" y="267.4" width="2.6" height="2.4"/>
<rect x="559.9775" y="265.6" width="2.6" height="2.4"/>
<rect x="567.525" y="267" width="2.6" height="2.4"/>
<rect x="575.0725" y="268.8" width="2.6" height="2.4"/>
<rect x="582.62" y="268.5" width="2.6" height="2.4"/>
<rect x="590.1675" y="271.9" width="2.6" height="2.4"/>
<rect x="597.715" y="272.9" width="2.6" height="2.4"/>
<rect x="605.2625" y="272.9" width="2.6" height="2.4"/>
<rect x="612.81" y="270.1" width="2.6" height="2.4"/>
<rect x="620.3575" y="272" width="2.6" height="2.4"/>
<rect x="627.905" y="278.6" width="2.6" height="2.4"/>
<rect x="635.4525" y="280.7" width="2.6" height="2.4"/>
</g>
<path d="M357.495 283L365.0425 261.6L372.59 198.2L380.1375 226.1L387.685 232.7L395.2325 232.7L402.78 232.7L410.3275 232.2L417.875 230L425.4225 225.2L432.97 219.1L440.5175 218.5L448.065 230.6L455.6125 232.5L463.16 239.1L470.7075 249.7L478.255 252.5L485.8025 251.6L493.35 252.5L500.8975 253.1L508.445 251.7L515.9925 252.1L523.54 249.4L531.0875 247.3L538.635 241.2L546.1825 233.9L553.73 221.9L561.2775 231.8L568.825 240.9L576.3725 245.9L583.92 241.4L591.4675 237.3L599.015 247L606.5625 256.1L614.11 251.3L621.6575 261.6L629.205 279.8L636.7525 282.2" fill="none" stroke="#606060" stroke-width="0.55" stroke-linejoin="round"/>
<g fill="#fff" stroke="#666" stroke-width="0.5">
<ellipse cx="357.495" cy="283" rx="1.5" ry="1.45"/>
<ellipse cx="365.0425" cy="261.6" rx="1.5" ry="1.45"/>
<ellipse cx="372.59" cy="198.2" rx="1.5" ry="1.45"/>
<ellipse cx="380.1375" cy="226.1" rx="1.5" ry="1.45"/>
<ellipse cx="387.685" cy="232.7" rx="1.5" ry="1.45"/>
<ellipse cx="395.2325" cy="232.7" rx="1.5" ry="1.45"/>
<ellipse cx="402.78" cy="232.7" rx="1.5" ry="1.45"/>
<ellipse cx="410.3275" cy="232.2" rx="1.5" ry="1.45"/>
<ellipse cx="417.875" cy="230" rx="1.5" ry="1.45"/>
<ellipse cx="425.4225" cy="225.2" rx="1.5" ry="1.45"/>
<ellipse cx="432.97" cy="219.1" rx="1.5" ry="1.45"/>
<ellipse cx="440.5175" cy="218.5" rx="1.5" ry="1.45"/>
<ellipse cx="448.065" cy="230.6" rx="1.5" ry="1.45"/>
<ellipse cx="455.6125" cy="232.5" rx="1.5" ry="1.45"/>
<ellipse cx="463.16" cy="239.1" rx="1.5" ry="1.45"/>
<ellipse cx="470.7075" cy="249.7" rx="1.5" ry="1.45"/>
<ellipse cx="478.255" cy="252.5" rx="1.5" ry="1.45"/>
<ellipse cx="485.8025" cy="251.6" rx="1.5" ry="1.45"/>
<ellipse cx="493.35" cy="252.5" rx="1.5" ry="1.45"/>
<ellipse cx="500.8975" cy="253.1" rx="1.5" ry="1.45"/>
<ellipse cx="508.445" cy="251.7" rx="1.5" ry="1.45"/>
<ellipse cx="515.9925" cy="252.1" rx="1.5" ry="1.45"/>
<ellipse cx="523.54" cy="249.4" rx="1.5" ry="1.45"/>
<ellipse cx="531.0875" cy="247.3" rx="1.5" ry="1.45"/>
<ellipse cx="538.635" cy="241.2" rx="1.5" ry="1.45"/>
<ellipse cx="546.1825" cy="233.9" rx="1.5" ry="1.45"/>
<ellipse cx="553.73" cy="221.9" rx="1.5" ry="1.45"/>
<ellipse cx="561.2775" cy="231.8" rx="1.5" ry="1.45"/>
<ellipse cx="568.825" cy="240.9" rx="1.5" ry="1.45"/>
<ellipse cx="576.3725" cy="245.9" rx="1.5" ry="1.45"/>
<ellipse cx="583.92" cy="241.4" rx="1.5" ry="1.45"/>
<ellipse cx="591.4675" cy="237.3" rx="1.5" ry="1.45"/>
<ellipse cx="599.015" cy="247" rx="1.5" ry="1.45"/>
<ellipse cx="606.5625" cy="256.1" rx="1.5" ry="1.45"/>
<ellipse cx="614.11" cy="251.3" rx="1.5" ry="1.45"/>
<ellipse cx="621.6575" cy="261.6" rx="1.5" ry="1.45"/>
<ellipse cx="629.205" cy="279.8" rx="1.5" ry="1.45"/>
<ellipse cx="636.7525" cy="282.2" rx="1.5" ry="1.45"/>
</g>
</g>
<text transform="matrix(0.0733 0 0 0.0705 326.0835 285.3)" font-size="100" stroke="#0a0a0a" stroke-width="3.5461" fill="#0a0a0a">0,0</text>
<text transform="matrix(0.0733 0 0 0.0705 650.8067 285.3)" font-size="100" stroke="#0a0a0a" stroke-width="3.5461" fill="#0a0a0a">0</text>
<text transform="matrix(0.0733 0 0 0.0705 326.1751 245.92)" font-size="100" stroke="#0a0a0a" stroke-width="3.5461" fill="#0a0a0a">0,2</text>
<text transform="matrix(0.0733 0 0 0.0705 650.7334 245.92)" font-size="100" stroke="#0a0a0a" stroke-width="3.5461" fill="#0a0a0a">20</text>
<text transform="matrix(0.0733 0 0 0.0705 326.0102 206.54)" font-size="100" stroke="#0a0a0a" stroke-width="3.5461" fill="#0a0a0a">0,4</text>
<text transform="matrix(0.0733 0 0 0.0705 650.935 206.54)" font-size="100" stroke="#0a0a0a" stroke-width="3.5461" fill="#0a0a0a">40</text>
<text transform="matrix(0.0733 0 0 0.0705 326.1201 167.16)" font-size="100" stroke="#0a0a0a" stroke-width="3.5461" fill="#0a0a0a">0,6</text>
<text transform="matrix(0.0733 0 0 0.0705 650.7334 167.16)" font-size="100" stroke="#0a0a0a" stroke-width="3.5461" fill="#0a0a0a">60</text>
<text transform="matrix(0.0733 0 0 0.0705 326.1201 127.78)" font-size="100" stroke="#0a0a0a" stroke-width="3.5461" fill="#0a0a0a">0,8</text>
<text transform="matrix(0.0733 0 0 0.0705 650.7884 127.78)" font-size="100" stroke="#0a0a0a" stroke-width="3.5461" fill="#0a0a0a">80</text>
<text transform="matrix(0.0733 0 0 0.0705 326.0835 88.4)" font-size="100" stroke="#0a0a0a" stroke-width="3.5461" fill="#0a0a0a">1,0</text>
<text transform="matrix(0.0733 0 0 0.0705 650.5501 88.4)" font-size="100" stroke="#0a0a0a" stroke-width="3.5461" fill="#0a0a0a">100</text>
<text transform="matrix(0.0733 0 0 0.0705 338.2849 295.8)" font-size="100" stroke="#0a0a0a" stroke-width="3.5461" fill="#0a0a0a">20</text>
<text transform="matrix(0.0733 0 0 0.0705 376.0316 295.8)" font-size="100" stroke="#0a0a0a" stroke-width="3.5461" fill="#0a0a0a">25</text>
<text transform="matrix(0.0733 0 0 0.0705 413.8057 295.8)" font-size="100" stroke="#0a0a0a" stroke-width="3.5461" fill="#0a0a0a">30</text>
<text transform="matrix(0.0733 0 0 0.0705 451.5524 295.8)" font-size="100" stroke="#0a0a0a" stroke-width="3.5461" fill="#0a0a0a">35</text>
<text transform="matrix(0.0733 0 0 0.0705 489.3357 295.8)" font-size="100" stroke="#0a0a0a" stroke-width="3.5461" fill="#0a0a0a">40</text>
<text transform="matrix(0.0733 0 0 0.0705 527.0824 295.8)" font-size="100" stroke="#0a0a0a" stroke-width="3.5461" fill="#0a0a0a">45</text>
<text transform="matrix(0.0733 0 0 0.0705 564.7466 295.8)" font-size="100" stroke="#0a0a0a" stroke-width="3.5461" fill="#0a0a0a">50</text>
<text transform="matrix(0.0733 0 0 0.0705 602.4932 295.8)" font-size="100" stroke="#0a0a0a" stroke-width="3.5461" fill="#0a0a0a">55</text>
<text transform="matrix(0.0733 0 0 0.0705 640.1849 295.8)" font-size="100" stroke="#0a0a0a" stroke-width="3.5461" fill="#0a0a0a">60</text>
<text transform="matrix(0.0733 0 0 0.0705 359.9236 77.6)" font-size="100" stroke="#0a0a0a" stroke-width="3.5461" fill="#0a0a0a">6</text>
<text transform="matrix(0.0733 0 0 0.0705 425.637 77.6)" font-size="100" stroke="#0a0a0a" stroke-width="3.5461" fill="#0a0a0a">5</text>
<text transform="matrix(0.0733 0 0 0.0705 491.3412 77.6)" font-size="100" stroke="#0a0a0a" stroke-width="3.5461" fill="#0a0a0a">4</text>
<text transform="matrix(0.0733 0 0 0.0705 557.0271 77.6)" font-size="100" stroke="#0a0a0a" stroke-width="3.5461" fill="#0a0a0a">3</text>
<text transform="matrix(0.0733 0 0 0.0705 622.6947 77.6)" font-size="100" stroke="#0a0a0a" stroke-width="3.5461" fill="#0a0a0a">2</text>
<text transform="matrix(0.0913 0 0 0.0931 467.5965 68.6)" font-size="100" stroke="#0a0a0a" stroke-width="2.6855" fill="#0a0a0a">Lg(M) [g/mol]</text>
<text transform="matrix(0.0923 0 0 0.0945 478.1038 309.1)" font-size="100" stroke="#0a0a0a" stroke-width="2.6442" fill="#0a0a0a">Ve [mL]</text>
<text transform="matrix(0 -0.0932 0.0945 0 318.95 218.5794)" font-size="100" stroke="#0a0a0a" stroke-width="2.681" fill="#0a0a0a">mass fraction</text>
<text transform="matrix(0 -0.092 0.0959 0 672.15 238.9482)" font-size="100" stroke="#0a0a0a" stroke-width="2.7165" fill="#0a0a0a">percent of mass fraction</text>
</g>
<g>
<path d="M339.5 645H644.8V844.3H339.5Z" fill="none" stroke="#1a1a1a" stroke-width="1.05" stroke-linejoin="miter"/>
<path d="M339.5 844.3v3.8M358.5813 844.3v1.8M377.6625 844.3v3.8M396.7437 844.3v1.8M415.825 844.3v3.8M434.9062 844.3v1.8M453.9875 844.3v3.8M473.0687 844.3v1.8M492.15 844.3v3.8M511.2312 844.3v1.8M530.3125 844.3v3.8M549.3937 844.3v1.8M568.475 844.3v3.8M587.5562 844.3v1.8M606.6375 844.3v3.8M625.7188 844.3v1.8M644.8 844.3v3.8M359.3063 645v-3.8M425.732 645v-3.8M492.1576 645v-3.8M558.5833 645v-3.8M625.0089 645v-3.8M339.5 844.3h-3.8M644.8 844.3h3.8M339.5 824.37h-1.8M644.8 824.37h1.8M339.5 804.44h-3.8M644.8 804.44h3.8M339.5 784.51h-1.8M644.8 784.51h1.8M339.5 764.58h-3.8M644.8 764.58h3.8M339.5 744.65h-1.8M644.8 744.65h1.8M339.5 724.72h-3.8M644.8 724.72h3.8M339.5 704.79h-1.8M644.8 704.79h1.8M339.5 684.86h-3.8M644.8 684.86h3.8M339.5 664.93h-1.8M644.8 664.93h1.8M339.5 645h-3.8M644.8 645h3.8" fill="none" stroke="#1a1a1a" stroke-width="0.9"/>
<clipPath id="clip4"><rect x="339.5" y="645" width="305.3" height="199.6"/></clipPath>
<g clip-path="url(#clip4)">
<path d="M341.0265 843.8C341.4081 843.8333 342.553 843.9667 343.3163 844C344.0795 844.0333 344.8428 844.1 345.606 844C346.3692 843.9 347.1325 843.5 347.8958 843.4C348.659 843.3 349.4222 843.8 350.1855 843.4C350.9488 843 351.712 842.1167 352.4753 841C353.2385 839.8833 354.0018 837.7167 354.765 836.7C355.5282 835.6833 356.2915 837.2833 357.0548 834.9C357.818 832.5167 358.5812 829.3167 359.3445 822.4C360.1078 815.4833 360.871 801.0833 361.6343 793.4C362.3975 785.7167 363.1608 783.1667 363.924 776.3C364.6872 769.4333 365.4505 758.4333 366.2138 752.2C366.977 745.9667 367.7402 740.3833 368.5035 738.9C369.2668 737.4167 370.03 740.8833 370.7933 743.3C371.5565 745.7167 372.3197 750.15 373.083 753.4C373.8462 756.65 374.6095 760.5333 375.3727 762.8C376.136 765.0667 376.8993 765.9 377.6625 767C378.4257 768.1 379.189 769.2 379.9522 769.4C380.7155 769.6 381.4787 768.5333 382.242 768.2C383.0052 767.8667 383.7685 767.6667 384.5317 767.4C385.295 767.1333 386.0583 766.8333 386.8215 766.6C387.5847 766.3667 388.348 766.0333 389.1112 766C389.8745 765.9667 390.6377 766.3333 391.401 766.4C392.1643 766.4667 392.9275 766.0333 393.6907 766.4C394.454 766.7667 395.2173 768.4333 395.9805 768.6C396.7437 768.7667 397.507 767.5333 398.2702 767.4C399.0335 767.2667 399.7967 767.6667 400.56 767.8C401.3233 767.9333 402.0865 768.3333 402.8497 768.2C403.613 768.0667 404.3763 767.2 405.1395 767C405.9027 766.8 406.666 767.6667 407.4292 767C408.1925 766.3333 408.9557 764.3167 409.719 763C410.4823 761.6833 411.2455 759.65 412.0087 759.1C412.772 758.55 413.5352 760.5 414.2985 759.7C415.0618 758.9 415.825 756.05 416.5883 754.3C417.3515 752.55 418.1148 750.9833 418.878 749.2C419.6412 747.4167 420.4045 744.7833 421.1677 743.6C421.931 742.4167 422.6942 742.65 423.4575 742.1C424.2208 741.55 424.984 740.6667 425.7473 740.3C426.5105 739.9333 427.2738 740 428.037 739.9C428.8002 739.8 429.5635 739.4333 430.3267 739.7C431.09 739.9667 431.8532 740.5833 432.6165 741.5C433.3798 742.4167 434.143 743.7833 434.9062 745.2C435.6695 746.6167 436.4327 747.6833 437.196 750C437.9592 752.3167 438.7225 756.5667 439.4857 759.1C440.249 761.6333 441.0122 762.6667 441.7755 765.2C442.5387 767.7333 443.302 772.0333 444.0652 774.3C444.8285 776.5667 445.5917 777.85 446.355 778.8C447.1182 779.75 447.8815 779.3333 448.6447 780C449.408 780.6667 450.1712 782.2333 450.9345 782.8C451.6977 783.3667 452.461 783.3 453.2242 783.4C453.9875 783.5 454.7507 783.3 455.514 783.4C456.2772 783.5 457.0405 783.9 457.8037 784C458.567 784.1 459.3302 783.5 460.0935 784C460.8567 784.5 461.62 786.3 462.3832 787C463.1465 787.7 463.9097 787.15 464.673 788.2C465.4362 789.25 466.1995 791.4833 466.9627 793.3C467.726 795.1167 468.4892 797.0833 469.2525 799.1C470.0157 801.1167 470.779 804.1333 471.5422 805.4C472.3055 806.6667 473.0688 805.5667 473.832 806.7C474.5952 807.8333 475.3585 811.1333 476.1217 812.2C476.885 813.2667 477.6482 812.2833 478.4115 813.1C479.1747 813.9167 479.938 816.4333 480.7012 817.1C481.4645 817.7667 482.2278 817.0167 482.991 817.1C483.7542 817.1833 484.5175 816.8 485.2807 817.6C486.044 818.4 486.8072 821.5333 487.5705 821.9C488.3337 822.2667 489.097 819.95 489.8602 819.8C490.6235 819.65 491.3868 820.8 492.15 821C492.9132 821.2 493.6765 821.1 494.4397 821C495.203 820.9 495.9662 820.6333 496.7295 820.4C497.4927 820.1667 498.256 819.8167 499.0192 819.6C499.7825 819.3833 500.5457 819.2833 501.309 819.1C502.0722 818.9167 502.8355 818.7 503.5987 818.5C504.362 818.3 505.1252 818.1 505.8885 817.9C506.6517 817.7 507.415 817.4333 508.1782 817.3C508.9415 817.1667 509.7047 817.2 510.468 817.1C511.2312 817 511.9945 816.35 512.7577 816.7C513.521 817.05 514.2842 819.3 515.0475 819.2C515.8107 819.1 516.574 816.7167 517.3372 816.1C518.1005 815.4833 518.8637 816.2 519.627 815.5C520.3902 814.8 521.1535 813.0167 521.9167 811.9C522.68 810.7833 523.4433 809.4167 524.2065 808.8C524.9697 808.1833 525.733 809.7167 526.4962 808.2C527.2595 806.6833 528.0227 801.9167 528.786 799.7C529.5492 797.4833 530.3125 796.5167 531.0757 794.9C531.839 793.2833 532.6022 791.15 533.3655 790C534.1287 788.85 534.892 789 535.6553 788C536.4185 787 537.1817 784.5333 537.945 784C538.7082 783.4667 539.4715 784.95 540.2347 784.8C540.998 784.65 541.7613 783.5833 542.5245 783.1C543.2877 782.6167 544.051 782.15 544.8142 781.9C545.5775 781.65 546.3407 782.0667 547.104 781.6C547.8672 781.1333 548.6305 779.55 549.3937 779.1C550.157 778.65 550.9202 778.6333 551.6835 778.9C552.4467 779.1667 553.21 780.05 553.9733 780.7C554.7365 781.35 555.4997 781.0333 556.263 782.8C557.0262 784.5667 557.7895 788.3333 558.5527 791.3C559.316 794.2667 560.0793 796.8333 560.8425 800.6C561.6057 804.3667 562.369 810.4 563.1322 813.9C563.8955 817.4 564.6587 819.4667 565.422 821.6C566.1852 823.7333 566.9485 825.4833 567.7117 826.7C568.475 827.9167 569.2382 828.3333 570.0015 828.9C570.7647 829.4667 571.528 829.7 572.2912 830.1C573.0545 830.5 573.8177 831 574.581 831.3C575.3442 831.6 576.1075 831.7167 576.8707 831.9C577.634 832.0833 578.3972 832.5333 579.1605 832.4C579.9237 832.2667 580.687 831.4333 581.4502 831.1C582.2135 830.7667 582.9767 830.6667 583.74 830.4C584.5032 830.1333 585.2665 830.5667 586.0297 829.5C586.793 828.4333 587.5562 825.7167 588.3195 824C589.0827 822.2833 589.846 820.5167 590.6092 819.2C591.3725 817.8833 592.1358 816.45 592.899 816.1C593.6622 815.75 594.4255 816.1833 595.1887 817.1C595.952 818.0167 596.7152 820.05 597.4785 821.6C598.2417 823.15 599.005 825.3333 599.7682 826.4C600.5315 827.4667 601.2948 826.9833 602.058 828C602.8212 829.0167 603.5845 832.15 604.3477 832.5C605.111 832.85 605.8742 830.25 606.6375 830.1C607.4007 829.95 608.164 831.6 608.9272 831.6C609.6905 831.6 610.4538 830.7 611.217 830.1C611.9802 829.5 612.7435 828.7167 613.5068 828C614.27 827.2833 615.0332 826.1 615.7965 825.8C616.5597 825.5 617.323 826.0333 618.0862 826.2C618.8495 826.3667 619.6128 826.35 620.376 826.8C621.1392 827.25 621.9025 828.5 622.6657 828.9C623.429 829.3 624.1922 828.6 624.9555 829.2C625.7187 829.8 626.482 831.85 627.2452 832.5C628.0085 833.15 628.7717 832.75 629.535 833.1C630.2982 833.45 631.0615 834.0333 631.8247 834.6C632.588 835.1667 633.3512 835.8333 634.1145 836.5C634.8777 837.1667 635.641 837.9167 636.4042 838.6C637.1675 839.2833 637.9307 840.2 638.694 840.6C639.4572 841 640.2205 840.6333 640.9837 841C641.747 841.3667 642.8919 842.5 643.2735 842.8" fill="none" stroke="#606060" stroke-width="0.55" stroke-linejoin="round"/>
<g fill="#000">
<circle cx="341.0265" cy="843.8" r="1.55"/>
<circle cx="343.3163" cy="844" r="1.55"/>
<circle cx="345.606" cy="844" r="1.55"/>
<circle cx="347.8958" cy="843.4" r="1.55"/>
<circle cx="350.1855" cy="843.4" r="1.55"/>
<circle cx="352.4753" cy="841" r="1.55"/>
<circle cx="354.765" cy="836.7" r="1.55"/>
<circle cx="357.0548" cy="834.9" r="1.55"/>
<circle cx="359.3445" cy="822.4" r="1.55"/>
<circle cx="361.6343" cy="793.4" r="1.55"/>
<circle cx="363.924" cy="776.3" r="1.55"/>
<circle cx="366.2138" cy="752.2" r="1.55"/>
<circle cx="368.5035" cy="738.9" r="1.55"/>
<circle cx="370.7933" cy="743.3" r="1.55"/>
<circle cx="373.083" cy="753.4" r="1.55"/>
<circle cx="375.3727" cy="762.8" r="1.55"/>
<circle cx="377.6625" cy="767" r="1.55"/>
<circle cx="379.9522" cy="769.4" r="1.55"/>
<circle cx="382.242" cy="768.2" r="1.55"/>
<circle cx="384.5317" cy="767.4" r="1.55"/>
<circle cx="386.8215" cy="766.6" r="1.55"/>
<circle cx="389.1112" cy="766" r="1.55"/>
<circle cx="391.401" cy="766.4" r="1.55"/>
<circle cx="393.6907" cy="766.4" r="1.55"/>
<circle cx="395.9805" cy="768.6" r="1.55"/>
<circle cx="398.2702" cy="767.4" r="1.55"/>
<circle cx="400.56" cy="767.8" r="1.55"/>
<circle cx="402.8497" cy="768.2" r="1.55"/>
<circle cx="405.1395" cy="767" r="1.55"/>
<circle cx="407.4292" cy="767" r="1.55"/>
<circle cx="409.719" cy="763" r="1.55"/>
<circle cx="412.0087" cy="759.1" r="1.55"/>
<circle cx="414.2985" cy="759.7" r="1.55"/>
<circle cx="416.5883" cy="754.3" r="1.55"/>
<circle cx="418.878" cy="749.2" r="1.55"/>
<circle cx="421.1677" cy="743.6" r="1.55"/>
<circle cx="423.4575" cy="742.1" r="1.55"/>
<circle cx="425.7473" cy="740.3" r="1.55"/>
<circle cx="428.037" cy="739.9" r="1.55"/>
<circle cx="430.3267" cy="739.7" r="1.55"/>
<circle cx="432.6165" cy="741.5" r="1.55"/>
<circle cx="434.9062" cy="745.2" r="1.55"/>
<circle cx="437.196" cy="750" r="1.55"/>
<circle cx="439.4857" cy="759.1" r="1.55"/>
<circle cx="441.7755" cy="765.2" r="1.55"/>
<circle cx="444.0652" cy="774.3" r="1.55"/>
<circle cx="446.355" cy="778.8" r="1.55"/>
<circle cx="448.6447" cy="780" r="1.55"/>
<circle cx="450.9345" cy="782.8" r="1.55"/>
<circle cx="453.2242" cy="783.4" r="1.55"/>
<circle cx="455.514" cy="783.4" r="1.55"/>
<circle cx="457.8037" cy="784" r="1.55"/>
<circle cx="460.0935" cy="784" r="1.55"/>
<circle cx="462.3832" cy="787" r="1.55"/>
<circle cx="464.673" cy="788.2" r="1.55"/>
<circle cx="466.9627" cy="793.3" r="1.55"/>
<circle cx="469.2525" cy="799.1" r="1.55"/>
<circle cx="471.5422" cy="805.4" r="1.55"/>
<circle cx="473.832" cy="806.7" r="1.55"/>
<circle cx="476.1217" cy="812.2" r="1.55"/>
<circle cx="478.4115" cy="813.1" r="1.55"/>
<circle cx="480.7012" cy="817.1" r="1.55"/>
<circle cx="482.991" cy="817.1" r="1.55"/>
<circle cx="485.2807" cy="817.6" r="1.55"/>
<circle cx="487.5705" cy="821.9" r="1.55"/>
<circle cx="489.8602" cy="819.8" r="1.55"/>
<circle cx="492.15" cy="821" r="1.55"/>
<circle cx="494.4397" cy="821" r="1.55"/>
<circle cx="496.7295" cy="820.4" r="1.55"/>
<circle cx="499.0192" cy="819.6" r="1.55"/>
<circle cx="501.309" cy="819.1" r="1.55"/>
<circle cx="503.5987" cy="818.5" r="1.55"/>
<circle cx="505.8885" cy="817.9" r="1.55"/>
<circle cx="508.1782" cy="817.3" r="1.55"/>
<circle cx="510.468" cy="817.1" r="1.55"/>
<circle cx="512.7577" cy="816.7" r="1.55"/>
<circle cx="515.0475" cy="819.2" r="1.55"/>
<circle cx="517.3372" cy="816.1" r="1.55"/>
<circle cx="519.627" cy="815.5" r="1.55"/>
<circle cx="521.9167" cy="811.9" r="1.55"/>
<circle cx="524.2065" cy="808.8" r="1.55"/>
<circle cx="526.4962" cy="808.2" r="1.55"/>
<circle cx="528.786" cy="799.7" r="1.55"/>
<circle cx="531.0757" cy="794.9" r="1.55"/>
<circle cx="533.3655" cy="790" r="1.55"/>
<circle cx="535.6553" cy="788" r="1.55"/>
<circle cx="537.945" cy="784" r="1.55"/>
<circle cx="540.2347" cy="784.8" r="1.55"/>
<circle cx="542.5245" cy="783.1" r="1.55"/>
<circle cx="544.8142" cy="781.9" r="1.55"/>
<circle cx="547.104" cy="781.6" r="1.55"/>
<circle cx="549.3937" cy="779.1" r="1.55"/>
<circle cx="551.6835" cy="778.9" r="1.55"/>
<circle cx="553.9733" cy="780.7" r="1.55"/>
<circle cx="556.263" cy="782.8" r="1.55"/>
<circle cx="558.5527" cy="791.3" r="1.55"/>
<circle cx="560.8425" cy="800.6" r="1.55"/>
<circle cx="563.1322" cy="813.9" r="1.55"/>
<circle cx="565.422" cy="821.6" r="1.55"/>
<circle cx="567.7117" cy="826.7" r="1.55"/>
<circle cx="570.0015" cy="828.9" r="1.55"/>
<circle cx="572.2912" cy="830.1" r="1.55"/>
<circle cx="574.581" cy="831.3" r="1.55"/>
<circle cx="576.8707" cy="831.9" r="1.55"/>
<circle cx="579.1605" cy="832.4" r="1.55"/>
<circle cx="581.4502" cy="831.1" r="1.55"/>
<circle cx="583.74" cy="830.4" r="1.55"/>
<circle cx="586.0297" cy="829.5" r="1.55"/>
<circle cx="588.3195" cy="824" r="1.55"/>
<circle cx="590.6092" cy="819.2" r="1.55"/>
<circle cx="592.899" cy="816.1" r="1.55"/>
<circle cx="595.1887" cy="817.1" r="1.55"/>
<circle cx="597.4785" cy="821.6" r="1.55"/>
<circle cx="599.7682" cy="826.4" r="1.55"/>
<circle cx="602.058" cy="828" r="1.55"/>
<circle cx="604.3477" cy="832.5" r="1.55"/>
<circle cx="606.6375" cy="830.1" r="1.55"/>
<circle cx="608.9272" cy="831.6" r="1.55"/>
<circle cx="611.217" cy="830.1" r="1.55"/>
<circle cx="613.5068" cy="828" r="1.55"/>
<circle cx="615.7965" cy="825.8" r="1.55"/>
<circle cx="618.0862" cy="826.2" r="1.55"/>
<circle cx="620.376" cy="826.8" r="1.55"/>
<circle cx="622.6657" cy="828.9" r="1.55"/>
<circle cx="624.9555" cy="829.2" r="1.55"/>
<circle cx="627.2452" cy="832.5" r="1.55"/>
<circle cx="629.535" cy="833.1" r="1.55"/>
<circle cx="631.8247" cy="834.6" r="1.55"/>
<circle cx="634.1145" cy="836.5" r="1.55"/>
<circle cx="636.4042" cy="838.6" r="1.55"/>
<circle cx="638.694" cy="840.6" r="1.55"/>
<circle cx="640.9837" cy="841" r="1.55"/>
<circle cx="643.2735" cy="842.8" r="1.55"/>
</g>
<path d="M354.765 842.5L362.3975 841.6L370.03 837.7L377.6625 834L385.295 838L392.9275 838.3L400.56 838.3L408.1925 838.3L415.825 838.6L423.4575 838.8L431.09 838.6L438.7225 838.6L446.355 838.8L453.9875 839.2L461.62 839.5L469.2525 839.8L476.885 839.8L484.5175 840.4L492.15 841L499.7825 841.8L507.415 842.6L515.0475 843L522.68 843.3L530.3125 843.5L537.945 843.5L545.5775 843.5L553.21 843.5L560.8425 843.5L568.475 843.5L576.1075 843.5L583.74 843.5L591.3725 843.5L599.005 843.6L606.6375 843.8L614.27 843.8L621.9025 843.8L629.535 843.8L637.1675 843.8" fill="none" stroke="#606060" stroke-width="0.55" stroke-linejoin="round"/>
<g fill="#fff" stroke="#666" stroke-width="0.5" stroke-linejoin="miter">
<path d="M354.765 841.2L356.315 843.9L353.215 843.9Z"/>
<path d="M362.3975 840.3L363.9475 843L360.8475 843Z"/>
<path d="M370.03 836.4L371.58 839.1L368.48 839.1Z"/>
<path d="M377.6625 832.7L379.2125 835.4L376.1125 835.4Z"/>
<path d="M385.295 836.7L386.845 839.4L383.745 839.4Z"/>
<path d="M392.9275 837L394.4775 839.7L391.3775 839.7Z"/>
<path d="M400.56 837L402.11 839.7L399.01 839.7Z"/>
<path d="M408.1925 837L409.7425 839.7L406.6425 839.7Z"/>
<path d="M415.825 837.3L417.375 840L414.275 840Z"/>
<path d="M423.4575 837.5L425.0075 840.2L421.9075 840.2Z"/>
<path d="M431.09 837.3L432.64 840L429.54 840Z"/>
<path d="M438.7225 837.3L440.2725 840L437.1725 840Z"/>
<path d="M446.355 837.5L447.905 840.2L444.805 840.2Z"/>
<path d="M453.9875 837.9L455.5375 840.6L452.4375 840.6Z"/>
<path d="M461.62 838.2L463.17 840.9L460.07 840.9Z"/>
<path d="M469.2525 838.5L470.8025 841.2L467.7025 841.2Z"/>
<path d="M476.885 838.5L478.435 841.2L475.335 841.2Z"/>
<path d="M484.5175 839.1L486.0675 841.8L482.9675 841.8Z"/>
<path d="M492.15 839.7L493.7 842.4L490.6 842.4Z"/>
<path d="M499.7825 840.5L501.3325 843.2L498.2325 843.2Z"/>
<path d="M507.415 841.3L508.965 844L505.865 844Z"/>
<path d="M515.0475 841.7L516.5975 844.4L513.4975 844.4Z"/>
<path d="M522.68 842L524.23 844.7L521.13 844.7Z"/>
<path d="M530.3125 842.2L531.8625 844.9L528.7625 844.9Z"/>
<path d="M537.945 842.2L539.495 844.9L536.395 844.9Z"/>
<path d="M545.5775 842.2L547.1275 844.9L544.0275 844.9Z"/>
<path d="M553.21 842.2L554.76 844.9L551.66 844.9Z"/>
<path d="M560.8425 842.2L562.3925 844.9L559.2925 844.9Z"/>
<path d="M568.475 842.2L570.025 844.9L566.925 844.9Z"/>
<path d="M576.1075 842.2L577.6575 844.9L574.5575 844.9Z"/>
<path d="M583.74 842.2L585.29 844.9L582.19 844.9Z"/>
<path d="M591.3725 842.2L592.9225 844.9L589.8225 844.9Z"/>
<path d="M599.005 842.3L600.555 845L597.455 845Z"/>
<path d="M606.6375 842.5L608.1875 845.2L605.0875 845.2Z"/>
<path d="M614.27 842.5L615.82 845.2L612.72 845.2Z"/>
<path d="M621.9025 842.5L623.4525 845.2L620.3525 845.2Z"/>
<path d="M629.535 842.5L631.085 845.2L627.985 845.2Z"/>
<path d="M637.1675 842.5L638.7175 845.2L635.6175 845.2Z"/>
</g>
<path d="M362.3975 843.5L370.03 842.8L377.6625 843.4L385.295 842.8L392.9275 842.2L400.56 838.6L408.1925 835.9L415.825 830.4L423.4575 817.6L431.09 815.3L438.7225 813.5L446.355 817.3L453.9875 821.6L461.62 833.1L469.2525 836.1L476.885 837.7L484.5175 840.1L492.15 841.6L499.7825 842.2L507.415 842.4L515.0475 843.5L522.68 843.5L530.3125 842.2L537.945 841.3L545.5775 841.3L553.21 841.3L560.8425 841.3L568.475 841.3L576.1075 841.6L583.74 841.6L591.3725 842.8L599.005 843.4L606.6375 843.6L614.27 843.6" fill="none" stroke="#606060" stroke-width="0.55" stroke-linejoin="round"/>
<g fill="#fff" stroke="#666" stroke-width="0.5">
<rect x="361.0975" y="842.3" width="2.6" height="2.4"/>
<rect x="368.73" y="841.6" width="2.6" height="2.4"/>
<rect x="376.3625" y="842.2" width="2.6" height="2.4"/>
<rect x="383.995" y="841.6" width="2.6" height="2.4"/>
<rect x="391.6275" y="841" width="2.6" height="2.4"/>
<rect x="399.26" y="837.4" width="2.6" height="2.4"/>
<rect x="406.8925" y="834.7" width="2.6" height="2.4"/>
<rect x="414.525" y="829.2" width="2.6" height="2.4"/>
<rect x="422.1575" y="816.4" width="2.6" height="2.4"/>
<rect x="429.79" y="814.1" width="2.6" height="2.4"/>
<rect x="437.4225" y="812.3" width="2.6" height="2.4"/>
<rect x="445.055" y="816.1" width="2.6" height="2.4"/>
<rect x="452.6875" y="820.4" width="2.6" height="2.4"/>
<rect x="460.32" y="831.9" width="2.6" height="2.4"/>
<rect x="467.9525" y="834.9" width="2.6" height="2.4"/>
<rect x="475.585" y="836.5" width="2.6" height="2.4"/>
<rect x="483.2175" y="838.9" width="2.6" height="2.4"/>
<rect x="490.85" y="840.4" width="2.6" height="2.4"/>
<rect x="498.4825" y="841" width="2.6" height="2.4"/>
<rect x="506.115" y="841.2" width="2.6" height="2.4"/>
<rect x="513.7475" y="842.3" width="2.6" height="2.4"/>
<rect x="521.38" y="842.3" width="2.6" height="2.4"/>
<rect x="529.0125" y="841" width="2.6" height="2.4"/>
<rect x="536.645" y="840.1" width="2.6" height="2.4"/>
<rect x="544.2775" y="840.1" width="2.6" height="2.4"/>
<rect x="551.91" y="840.1" width="2.6" height="2.4"/>
<rect x="559.5425" y="840.1" width="2.6" height="2.4"/>
<rect x="567.175" y="840.1" width="2.6" height="2.4"/>
<rect x="574.8075" y="840.4" width="2.6" height="2.4"/>
<rect x="582.44" y="840.4" width="2.6" height="2.4"/>
<rect x="590.0725" y="841.6" width="2.6" height="2.4"/>
<rect x="597.705" y="842.2" width="2.6" height="2.4"/>
<rect x="605.3375" y="842.4" width="2.6" height="2.4"/>
<rect x="612.97" y="842.4" width="2.6" height="2.4"/>
</g>
<path d="M354.765 844L362.3975 790.7L370.03 745.8L377.6625 766.4L385.295 773.4L392.9275 770.9L400.56 774.3L408.1925 780L415.825 779.7L423.4575 777.4L431.09 782.4L438.7225 796.7L446.355 802.2L453.9875 806.2L461.62 812.5L469.2525 816.4L476.885 814.3L484.5175 816.7L492.15 821.2L499.7825 816.7L507.415 814.3L515.0475 816.7L522.68 807L530.3125 799.1L537.945 787L545.5775 786.8L553.21 779.7L560.8425 790.7L568.475 819.2L576.1075 831.9L583.74 823.4L591.3725 816.1L599.005 818.5L606.6375 825.2L614.27 820.4L621.9025 823.2L629.535 839.8L637.1675 842.2" fill="none" stroke="#606060" stroke-width="0.55" stroke-linejoin="round"/>
<g fill="#fff" stroke="#666" stroke-width="0.5">
<ellipse cx="354.765" cy="844" rx="1.5" ry="1.45"/>
<ellipse cx="362.3975" cy="790.7" rx="1.5" ry="1.45"/>
<ellipse cx="370.03" cy="745.8" rx="1.5" ry="1.45"/>
<ellipse cx="377.6625" cy="766.4" rx="1.5" ry="1.45"/>
<ellipse cx="385.295" cy="773.4" rx="1.5" ry="1.45"/>
<ellipse cx="392.9275" cy="770.9" rx="1.5" ry="1.45"/>
<ellipse cx="400.56" cy="774.3" rx="1.5" ry="1.45"/>
<ellipse cx="408.1925" cy="780" rx="1.5" ry="1.45"/>
<ellipse cx="415.825" cy="779.7" rx="1.5" ry="1.45"/>
<ellipse cx="423.4575" cy="777.4" rx="1.5" ry="1.45"/>
<ellipse cx="431.09" cy="782.4" rx="1.5" ry="1.45"/>
<ellipse cx="438.7225" cy="796.7" rx="1.5" ry="1.45"/>
<ellipse cx="446.355" cy="802.2" rx="1.5" ry="1.45"/>
<ellipse cx="453.9875" cy="806.2" rx="1.5" ry="1.45"/>
<ellipse cx="461.62" cy="812.5" rx="1.5" ry="1.45"/>
<ellipse cx="469.2525" cy="816.4" rx="1.5" ry="1.45"/>
<ellipse cx="476.885" cy="814.3" rx="1.5" ry="1.45"/>
<ellipse cx="484.5175" cy="816.7" rx="1.5" ry="1.45"/>
<ellipse cx="492.15" cy="821.2" rx="1.5" ry="1.45"/>
<ellipse cx="499.7825" cy="816.7" rx="1.5" ry="1.45"/>
<ellipse cx="507.415" cy="814.3" rx="1.5" ry="1.45"/>
<ellipse cx="515.0475" cy="816.7" rx="1.5" ry="1.45"/>
<ellipse cx="522.68" cy="807" rx="1.5" ry="1.45"/>
<ellipse cx="530.3125" cy="799.1" rx="1.5" ry="1.45"/>
<ellipse cx="537.945" cy="787" rx="1.5" ry="1.45"/>
<ellipse cx="545.5775" cy="786.8" rx="1.5" ry="1.45"/>
<ellipse cx="553.21" cy="779.7" rx="1.5" ry="1.45"/>
<ellipse cx="560.8425" cy="790.7" rx="1.5" ry="1.45"/>
<ellipse cx="568.475" cy="819.2" rx="1.5" ry="1.45"/>
<ellipse cx="576.1075" cy="831.9" rx="1.5" ry="1.45"/>
<ellipse cx="583.74" cy="823.4" rx="1.5" ry="1.45"/>
<ellipse cx="591.3725" cy="816.1" rx="1.5" ry="1.45"/>
<ellipse cx="599.005" cy="818.5" rx="1.5" ry="1.45"/>
<ellipse cx="606.6375" cy="825.2" rx="1.5" ry="1.45"/>
<ellipse cx="614.27" cy="820.4" rx="1.5" ry="1.45"/>
<ellipse cx="621.9025" cy="823.2" rx="1.5" ry="1.45"/>
<ellipse cx="629.535" cy="839.8" rx="1.5" ry="1.45"/>
<ellipse cx="637.1675" cy="842.2" rx="1.5" ry="1.45"/>
</g>
</g>
<text transform="matrix(0.0733 0 0 0.0705 323.1835 846.5)" font-size="100" stroke="#0a0a0a" stroke-width="3.5461" fill="#0a0a0a">0,0</text>
<text transform="matrix(0.0733 0 0 0.0705 651.8067 846.5)" font-size="100" stroke="#0a0a0a" stroke-width="3.5461" fill="#0a0a0a">0</text>
<text transform="matrix(0.0733 0 0 0.0705 323.2751 806.64)" font-size="100" stroke="#0a0a0a" stroke-width="3.5461" fill="#0a0a0a">0,2</text>
<text transform="matrix(0.0733 0 0 0.0705 651.7334 806.64)" font-size="100" stroke="#0a0a0a" stroke-width="3.5461" fill="#0a0a0a">20</text>
<text transform="matrix(0.0733 0 0 0.0705 323.1102 766.78)" font-size="100" stroke="#0a0a0a" stroke-width="3.5461" fill="#0a0a0a">0,4</text>
<text transform="matrix(0.0733 0 0 0.0705 651.935 766.78)" font-size="100" stroke="#0a0a0a" stroke-width="3.5461" fill="#0a0a0a">40</text>
<text transform="matrix(0.0733 0 0 0.0705 323.2201 726.92)" font-size="100" stroke="#0a0a0a" stroke-width="3.5461" fill="#0a0a0a">0,6</text>
<text transform="matrix(0.0733 0 0 0.0705 651.7334 726.92)" font-size="100" stroke="#0a0a0a" stroke-width="3.5461" fill="#0a0a0a">60</text>
<text transform="matrix(0.0733 0 0 0.0705 323.2201 687.06)" font-size="100" stroke="#0a0a0a" stroke-width="3.5461" fill="#0a0a0a">0,8</text>
<text transform="matrix(0.0733 0 0 0.0705 651.7884 687.06)" font-size="100" stroke="#0a0a0a" stroke-width="3.5461" fill="#0a0a0a">80</text>
<text transform="matrix(0.0733 0 0 0.0705 323.1835 647.2)" font-size="100" stroke="#0a0a0a" stroke-width="3.5461" fill="#0a0a0a">1,0</text>
<text transform="matrix(0.0733 0 0 0.0705 651.5501 647.2)" font-size="100" stroke="#0a0a0a" stroke-width="3.5461" fill="#0a0a0a">100</text>
<text transform="matrix(0.0733 0 0 0.0705 335.3849 857)" font-size="100" stroke="#0a0a0a" stroke-width="3.5461" fill="#0a0a0a">20</text>
<text transform="matrix(0.0733 0 0 0.0705 373.5566 857)" font-size="100" stroke="#0a0a0a" stroke-width="3.5461" fill="#0a0a0a">25</text>
<text transform="matrix(0.0733 0 0 0.0705 411.7557 857)" font-size="100" stroke="#0a0a0a" stroke-width="3.5461" fill="#0a0a0a">30</text>
<text transform="matrix(0.0733 0 0 0.0705 449.9274 857)" font-size="100" stroke="#0a0a0a" stroke-width="3.5461" fill="#0a0a0a">35</text>
<text transform="matrix(0.0733 0 0 0.0705 488.1357 857)" font-size="100" stroke="#0a0a0a" stroke-width="3.5461" fill="#0a0a0a">40</text>
<text transform="matrix(0.0733 0 0 0.0705 526.3074 857)" font-size="100" stroke="#0a0a0a" stroke-width="3.5461" fill="#0a0a0a">45</text>
<text transform="matrix(0.0733 0 0 0.0705 564.3966 857)" font-size="100" stroke="#0a0a0a" stroke-width="3.5461" fill="#0a0a0a">50</text>
<text transform="matrix(0.0733 0 0 0.0705 602.5682 857)" font-size="100" stroke="#0a0a0a" stroke-width="3.5461" fill="#0a0a0a">55</text>
<text transform="matrix(0.0733 0 0 0.0705 640.6849 857)" font-size="100" stroke="#0a0a0a" stroke-width="3.5461" fill="#0a0a0a">60</text>
<text transform="matrix(0.0733 0 0 0.0705 357.2442 636.4)" font-size="100" stroke="#0a0a0a" stroke-width="3.5461" fill="#0a0a0a">6</text>
<text transform="matrix(0.0733 0 0 0.0705 423.6974 636.4)" font-size="100" stroke="#0a0a0a" stroke-width="3.5461" fill="#0a0a0a">5</text>
<text transform="matrix(0.0733 0 0 0.0705 490.1413 636.4)" font-size="100" stroke="#0a0a0a" stroke-width="3.5461" fill="#0a0a0a">4</text>
<text transform="matrix(0.0733 0 0 0.0705 556.567 636.4)" font-size="100" stroke="#0a0a0a" stroke-width="3.5461" fill="#0a0a0a">3</text>
<text transform="matrix(0.0733 0 0 0.0705 622.9743 636.4)" font-size="100" stroke="#0a0a0a" stroke-width="3.5461" fill="#0a0a0a">2</text>
<text transform="matrix(0.0913 0 0 0.0931 466.3965 627.4)" font-size="100" stroke="#0a0a0a" stroke-width="2.6855" fill="#0a0a0a">Lg(M) [g/mol]</text>
<text transform="matrix(0.0923 0 0 0.0945 476.9038 870.3)" font-size="100" stroke="#0a0a0a" stroke-width="2.6442" fill="#0a0a0a">Ve [mL]</text>
<text transform="matrix(0 -0.0932 0.0945 0 316.05 778.5794)" font-size="100" stroke="#0a0a0a" stroke-width="2.681" fill="#0a0a0a">mass fraction</text>
<text transform="matrix(0 -0.092 0.0959 0 672.65 798.9482)" font-size="100" stroke="#0a0a0a" stroke-width="2.7165" fill="#0a0a0a">percent of mass fraction</text>
</g>
</svg>
</body></html>
